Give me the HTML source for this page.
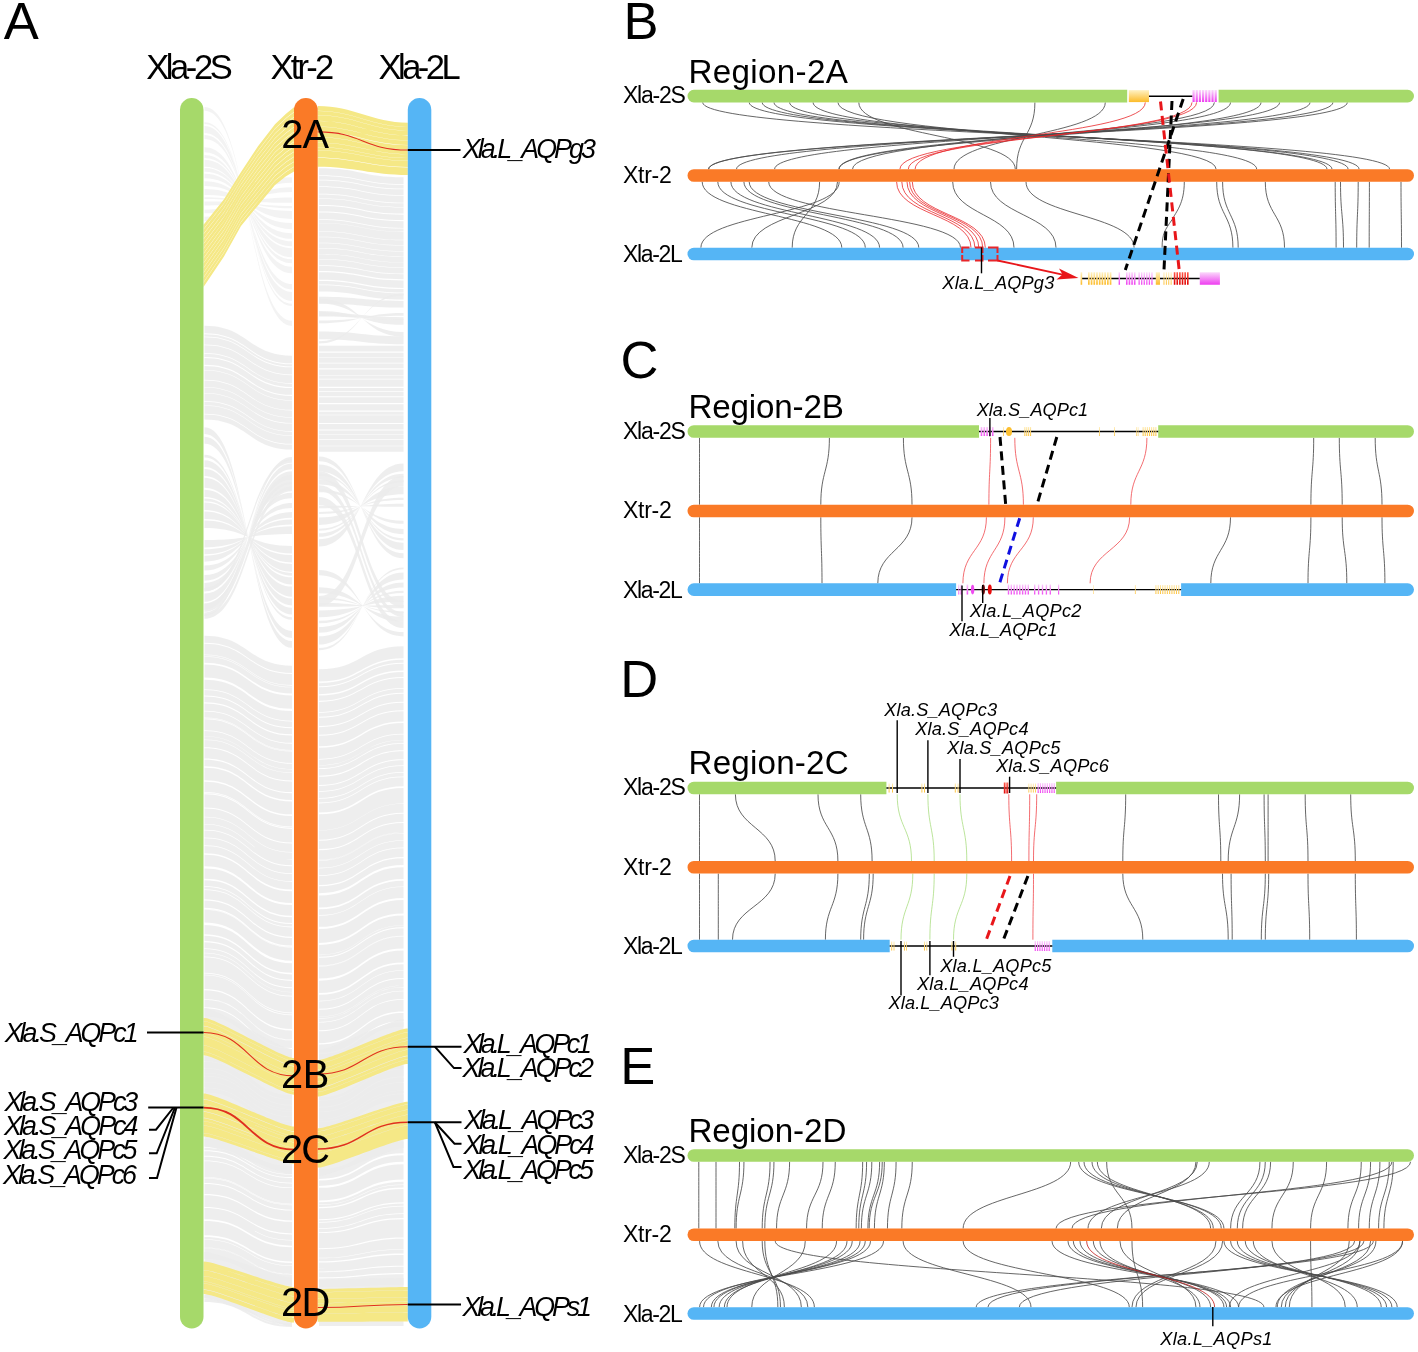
<!DOCTYPE html>
<html lang="en"><head><meta charset="utf-8"><title>Figure</title>
<style>
html,body{margin:0;padding:0;background:#fff}
svg{display:block}
text{font-family:"Liberation Sans",Arial,Helvetica,sans-serif;fill:#000}
</style></head><body>
<svg width="1418" height="1352" viewBox="0 0 1418 1352">
<rect width="1418" height="1352" fill="#fff"/>
<text x="3.8" y="38.8" font-size="52.5">A</text>
<g id="pA">
<g fill="#ebebeb" fill-opacity="0.85">
<path d="M204.5 106.99C248.25 106.99 248.25 325.9 292 325.9L292 320.85C248.25 320.85 248.25 110.86 204.5 110.86ZM204.5 122.2C248.25 122.2 248.25 306.06 292 306.06L292 303.81C248.25 303.81 248.25 123.93 204.5 123.93ZM204.5 126.11C248.25 126.11 248.25 300.97 292 300.97L292 291.95C248.25 291.95 248.25 133.03 204.5 133.03ZM204.5 134.98C248.25 134.98 248.25 289.41 292 289.41L292 284.03C248.25 284.03 248.25 139.11 204.5 139.11ZM204.5 147.3C248.25 147.3 248.25 273.35 292 273.35L292 266.84C248.25 266.84 248.25 152.3 204.5 152.3ZM204.5 155.03C248.25 155.03 248.25 263.28 292 263.28L292 259.36C248.25 259.36 248.25 158.04 204.5 158.04ZM204.5 159.63C248.25 159.63 248.25 257.29 292 257.29L292 248.15C248.25 248.15 248.25 166.64 204.5 166.64ZM204.5 168.12C248.25 168.12 248.25 246.22 292 246.22L292 241.35C248.25 241.35 248.25 171.86 204.5 171.86ZM204.5 173.77C248.25 173.77 248.25 238.86 292 238.86L292 233.17C248.25 233.17 248.25 178.14 204.5 178.14ZM204.5 181.24C248.25 181.24 248.25 229.13 292 229.13L292 223.04C248.25 223.04 248.25 185.91 204.5 185.91ZM204.5 189.07C248.25 189.07 248.25 218.91 292 218.91L292 211.03C248.25 211.03 248.25 195.12 204.5 195.12ZM204.5 197.29C248.25 197.29 248.25 208.2 292 208.2L292 205.94C248.25 205.94 248.25 199.03 204.5 199.03ZM204.5 201.46C248.25 201.46 248.25 202.77 292 202.77L292 197.44C248.25 197.44 248.25 205.55 204.5 205.55ZM204.5 209.65C248.25 209.65 248.25 192.09 292 192.09L292 187.33C248.25 187.33 248.25 213.3 204.5 213.3ZM204.5 216.75C248.25 216.75 248.25 182.85 292 182.85L292 177.2C248.25 177.2 248.25 221.08 204.5 221.08Z" fill-opacity="0.6"/>
<path d="M204.5 325.7C248.25 325.7 248.25 355.7 292 355.7L292 363.37C248.25 363.37 248.25 333.37 204.5 333.37ZM204.5 334.33C248.25 334.33 248.25 364.33 292 364.33L292 366.49C248.25 366.49 248.25 336.49 204.5 336.49ZM204.5 337.31C248.25 337.31 248.25 367.31 292 367.31L292 374.41C248.25 374.41 248.25 344.41 204.5 344.41ZM204.5 345.25C248.25 345.25 248.25 375.25 292 375.25L292 383.09C248.25 383.09 248.25 353.09 204.5 353.09ZM204.5 353.69C248.25 353.69 248.25 383.69 292 383.69L292 386.95C248.25 386.95 248.25 356.95 204.5 356.95ZM204.5 358.09C248.25 358.09 248.25 388.09 292 388.09L292 394.85C248.25 394.85 248.25 364.85 204.5 364.85ZM204.5 365.94C248.25 365.94 248.25 395.94 292 395.94L292 400.03C248.25 400.03 248.25 370.03 204.5 370.03ZM204.5 370.6C248.25 370.6 248.25 400.6 292 400.6L292 409.79C248.25 409.79 248.25 379.79 204.5 379.79ZM204.5 380.39C248.25 380.39 248.25 410.39 292 410.39L292 417.02C248.25 417.02 248.25 387.02 204.5 387.02ZM204.5 387.52C248.25 387.52 248.25 417.52 292 417.52L292 423.01C248.25 423.01 248.25 393.01 204.5 393.01ZM204.5 393.52C248.25 393.52 248.25 423.52 292 423.52L292 431.11C248.25 431.11 248.25 401.11 204.5 401.11ZM204.5 401.68C248.25 401.68 248.25 431.68 292 431.68L292 435.29C248.25 435.29 248.25 405.29 204.5 405.29ZM204.5 405.84C248.25 405.84 248.25 435.84 292 435.84L292 443.84C248.25 443.84 248.25 413.84 204.5 413.84ZM204.5 414.58C248.25 414.58 248.25 444.58 292 444.58L292 449.57C248.25 449.57 248.25 419.57 204.5 419.57Z"/>
<path d="M204.5 427.22C248.25 427.22 248.25 647.75 292 647.75L292 641C248.25 641 248.25 433.91 204.5 433.91ZM204.5 436.81C248.25 436.81 248.25 638.07 292 638.07L292 630.98C248.25 630.98 248.25 443.82 204.5 443.82ZM204.5 454.87C248.25 454.87 248.25 619.82 292 619.82L292 617.25C248.25 617.25 248.25 457.42 204.5 457.42ZM204.5 460.2C248.25 460.2 248.25 614.44 292 614.44L292 607.69C248.25 607.69 248.25 466.88 204.5 466.88ZM204.5 469.12C248.25 469.12 248.25 605.43 292 605.43L292 598.48C248.25 598.48 248.25 476 204.5 476ZM204.5 477.77C248.25 477.77 248.25 596.69 292 596.69L292 586.58C248.25 586.58 248.25 487.77 204.5 487.77ZM204.5 489.82C248.25 489.82 248.25 584.51 292 584.51L292 577.31C248.25 577.31 248.25 496.94 204.5 496.94ZM204.5 498.53C248.25 498.53 248.25 575.71 292 575.71L292 572.94C248.25 572.94 248.25 501.27 204.5 501.27ZM204.5 502.44C248.25 502.44 248.25 571.76 292 571.76L292 564C248.25 564 248.25 510.11 204.5 510.11ZM204.5 511.57C248.25 511.57 248.25 562.53 292 562.53L292 555C248.25 555 248.25 519.02 204.5 519.02ZM204.5 520.52C248.25 520.52 248.25 553.49 292 553.49L292 545.96C248.25 545.96 248.25 527.97 204.5 527.97ZM204.5 539.91C248.25 539.91 248.25 533.9 292 533.9L292 526.32C248.25 526.32 248.25 547.41 204.5 547.41ZM204.5 549.33C248.25 549.33 248.25 524.38 292 524.38L292 519.5C248.25 519.5 248.25 554.17 204.5 554.17ZM204.5 555.82C248.25 555.82 248.25 517.82 292 517.82L292 511.95C248.25 511.95 248.25 561.63 204.5 561.63ZM204.5 565.47C248.25 565.47 248.25 508.07 292 508.07L292 503.01C248.25 503.01 248.25 570.49 204.5 570.49ZM204.5 575.09C248.25 575.09 248.25 498.35 292 498.35L292 492.73C248.25 492.73 248.25 580.65 204.5 580.65ZM204.5 583.02C248.25 583.02 248.25 490.34 292 490.34L292 482.1C248.25 482.1 248.25 591.18 204.5 591.18ZM204.5 593.49C248.25 593.49 248.25 479.76 292 479.76L292 471.33C248.25 471.33 248.25 601.84 204.5 601.84ZM204.5 603.98C248.25 603.98 248.25 469.16 292 469.16L292 463.43C248.25 463.43 248.25 609.65 204.5 609.65ZM204.5 612.45C248.25 612.45 248.25 460.61 292 460.61L292 457.07C248.25 457.07 248.25 615.95 204.5 615.95Z"/>
<path d="M204.5 588.02C248.25 588.02 248.25 459.15 292 459.15L292 462.85C248.25 462.85 248.25 591.57 204.5 591.57ZM204.5 603.19C248.25 603.19 248.25 474.96 292 474.96L292 483.91C248.25 483.91 248.25 611.77 204.5 611.77ZM204.5 614.21C248.25 614.21 248.25 486.45 292 486.45L292 491.2C248.25 491.2 248.25 618.77 204.5 618.77Z"/>
<path d="M204.5 635.7C248.25 635.7 248.25 665.72 292 665.72L292 672.95C248.25 672.95 248.25 642.73 204.5 642.73ZM204.5 643.84C248.25 643.84 248.25 674.09 292 674.09L292 685.06C248.25 685.06 248.25 654.5 204.5 654.5ZM204.5 655.06C248.25 655.06 248.25 685.64 292 685.64L292 686.9C248.25 686.9 248.25 656.29 204.5 656.29ZM204.5 656.68C248.25 656.68 248.25 687.3 292 687.3L292 693.42C248.25 693.42 248.25 662.63 204.5 662.63ZM204.5 664.55C248.25 664.55 248.25 695.4 292 695.4L292 708.8C248.25 708.8 248.25 677.57 204.5 677.57ZM204.5 679.81C248.25 679.81 248.25 711.1 292 711.1L292 720.7C248.25 720.7 248.25 689.14 204.5 689.14ZM204.5 689.92C248.25 689.92 248.25 721.5 292 721.5L292 727.28C248.25 727.28 248.25 695.54 204.5 695.54ZM204.5 696.5C248.25 696.5 248.25 728.27 292 728.27L292 734.25C248.25 734.25 248.25 702.31 204.5 702.31ZM204.5 703.6C248.25 703.6 248.25 735.57 292 735.57L292 742.82C248.25 742.82 248.25 710.64 204.5 710.64ZM204.5 711.59C248.25 711.59 248.25 743.8 292 743.8L292 749.99C248.25 749.99 248.25 717.61 204.5 717.61ZM204.5 718.07C248.25 718.07 248.25 750.47 292 750.47L292 750.98C248.25 750.98 248.25 718.57 204.5 718.57ZM204.5 719.18C248.25 719.18 248.25 751.6 292 751.6L292 762.94C248.25 762.94 248.25 730.2 204.5 730.2ZM204.5 731C248.25 731 248.25 763.77 292 763.77L292 769.05C248.25 769.05 248.25 736.14 204.5 736.14ZM204.5 736.54C248.25 736.54 248.25 769.46 292 769.46L292 772.53C248.25 772.53 248.25 739.52 204.5 739.52ZM204.5 739.96C248.25 739.96 248.25 772.98 292 772.98L292 780.56C248.25 780.56 248.25 747.32 204.5 747.32ZM204.5 748.23C248.25 748.23 248.25 781.49 292 781.49L292 792.11C248.25 792.11 248.25 758.55 204.5 758.55ZM204.5 759.72C248.25 759.72 248.25 793.31 292 793.31L292 800.07C248.25 800.07 248.25 766.29 204.5 766.29ZM204.5 767.67C248.25 767.67 248.25 801.5 292 801.5L292 814.36C248.25 814.36 248.25 780.17 204.5 780.17ZM204.5 781.77C248.25 781.77 248.25 816 292 816L292 826.5C248.25 826.5 248.25 791.98 204.5 791.98ZM204.5 792.79C248.25 792.79 248.25 827.34 292 827.34L292 827.93C248.25 827.93 248.25 793.37 204.5 793.37ZM204.5 794.31C248.25 794.31 248.25 828.9 292 828.9L292 842.45C248.25 842.45 248.25 807.48 204.5 807.48ZM204.5 808.61C248.25 808.61 248.25 843.61 292 843.61L292 852.08C248.25 852.08 248.25 816.85 204.5 816.85ZM204.5 817.37C248.25 817.37 248.25 852.62 292 852.62L292 859.71C248.25 859.71 248.25 824.26 204.5 824.26ZM204.5 824.52C248.25 824.52 248.25 859.98 292 859.98L292 859.55C248.25 859.55 248.25 824.1 204.5 824.1ZM204.5 824.36C248.25 824.36 248.25 859.82 292 859.82L292 865.26C248.25 865.26 248.25 829.65 204.5 829.65ZM204.5 830.51C248.25 830.51 248.25 866.14 292 866.14L292 873.28C248.25 873.28 248.25 837.45 204.5 837.45ZM204.5 838.26C248.25 838.26 248.25 874.11 292 874.11L292 881.33C248.25 881.33 248.25 845.27 204.5 845.27ZM204.5 845.9C248.25 845.9 248.25 881.97 292 881.97L292 889.52C248.25 889.52 248.25 853.23 204.5 853.23ZM204.5 854.8C248.25 854.8 248.25 891.13 292 891.13L292 903.03C248.25 903.03 248.25 866.36 204.5 866.36ZM204.5 868.4C248.25 868.4 248.25 905.12 292 905.12L292 915.67C248.25 915.67 248.25 878.65 204.5 878.65ZM204.5 880.17C248.25 880.17 248.25 917.23 292 917.23L292 923.12C248.25 923.12 248.25 885.9 204.5 885.9ZM204.5 886.79C248.25 886.79 248.25 924.04 292 924.04L292 926.49C248.25 926.49 248.25 889.17 204.5 889.17ZM204.5 890.06C248.25 890.06 248.25 927.41 292 927.41L292 936.73C248.25 936.73 248.25 899.13 204.5 899.13ZM204.5 900.43C248.25 900.43 248.25 938.08 292 938.08L292 947.16C248.25 947.16 248.25 909.26 204.5 909.26ZM204.5 909.73C248.25 909.73 248.25 947.64 292 947.64L292 945.59C248.25 945.59 248.25 907.74 204.5 907.74ZM204.5 908.9C248.25 908.9 248.25 946.79 292 946.79L292 960.77C248.25 960.77 248.25 922.5 204.5 922.5ZM204.5 924.95C248.25 924.95 248.25 963.3 292 963.3L292 972.8C248.25 972.8 248.25 934.18 204.5 934.18ZM204.5 935.76C248.25 935.76 248.25 974.42 292 974.42L292 979.85C248.25 979.85 248.25 941.03 204.5 941.03ZM204.5 942.15C248.25 942.15 248.25 980.99 292 980.99L292 987.29C248.25 987.29 248.25 948.27 204.5 948.27ZM204.5 949.1C248.25 949.1 248.25 988.15 292 988.15L292 992.03C248.25 992.03 248.25 952.87 204.5 952.87ZM204.5 953.13C248.25 953.13 248.25 992.3 292 992.3L292 995.83C248.25 995.83 248.25 956.57 204.5 956.57ZM204.5 957.22C248.25 957.22 248.25 996.49 292 996.49L292 1012.59C248.25 1012.59 248.25 972.86 204.5 972.86ZM204.5 973.52C248.25 973.52 248.25 1013.26 292 1013.26L292 1014.47C248.25 1014.47 248.25 974.69 204.5 974.69ZM204.5 975.37C248.25 975.37 248.25 1015.17 292 1015.17L292 1029.11C248.25 1029.11 248.25 988.92 204.5 988.92ZM204.5 990.28C248.25 990.28 248.25 1030.51 292 1030.51L292 1039.56C248.25 1039.56 248.25 999.08 204.5 999.08ZM204.5 999.85C248.25 999.85 248.25 1040.36 292 1040.36L292 1040.12C248.25 1040.12 248.25 999.62 204.5 999.62ZM204.5 999.94C248.25 999.94 248.25 1040.45 292 1040.45L292 1048C248.25 1048 248.25 1007.28 204.5 1007.28ZM204.5 1008.16C248.25 1008.16 248.25 1048.91 292 1048.91L292 1057.45C248.25 1057.45 248.25 1016.47 204.5 1016.47Z"/>
<path d="M204.5 1056.23C248.25 1056.23 248.25 1095.2 292 1095.2L292 1099.19C248.25 1099.19 248.25 1061.01 204.5 1061.01ZM204.5 1061.87C248.25 1061.87 248.25 1099.92 292 1099.92L292 1104.84C248.25 1104.84 248.25 1067.75 204.5 1067.75ZM204.5 1068.73C248.25 1068.73 248.25 1105.67 292 1105.67L292 1109.02C248.25 1109.02 248.25 1072.74 204.5 1072.74ZM204.5 1073.17C248.25 1073.17 248.25 1109.39 292 1109.39L292 1111.6C248.25 1111.6 248.25 1075.81 204.5 1075.81ZM204.5 1076.4C248.25 1076.4 248.25 1112.09 292 1112.09L292 1116.51C248.25 1116.51 248.25 1081.67 204.5 1081.67ZM204.5 1082.36C248.25 1082.36 248.25 1117.09 292 1117.09L292 1121.46C248.25 1121.46 248.25 1087.59 204.5 1087.59ZM204.5 1088.26C248.25 1088.26 248.25 1122.03 292 1122.03L292 1125.59C248.25 1125.59 248.25 1092.51 204.5 1092.51Z"/>
<path d="M204.5 1139.06C248.25 1139.06 248.25 1166.05 292 1166.05L292 1177.11C248.25 1177.11 248.25 1150.21 204.5 1150.21ZM204.5 1151.14C248.25 1151.14 248.25 1178.03 292 1178.03L292 1174.3C248.25 1174.3 248.25 1147.37 204.5 1147.37ZM204.5 1147.95C248.25 1147.95 248.25 1174.86 292 1174.86L292 1182.66C248.25 1182.66 248.25 1155.8 204.5 1155.8ZM204.5 1156.64C248.25 1156.64 248.25 1183.49 292 1183.49L292 1187.43C248.25 1187.43 248.25 1160.62 204.5 1160.62ZM204.5 1161.28C248.25 1161.28 248.25 1188.09 292 1188.09L292 1203.65C248.25 1203.65 248.25 1176.96 204.5 1176.96ZM204.5 1177.52C248.25 1177.52 248.25 1204.2 292 1204.2L292 1204.73C248.25 1204.73 248.25 1178.06 204.5 1178.06ZM204.5 1178.46C248.25 1178.46 248.25 1205.13 292 1205.13L292 1209.71C248.25 1209.71 248.25 1183.08 204.5 1183.08ZM204.5 1183.96C248.25 1183.96 248.25 1210.59 292 1210.59L292 1220.44C248.25 1220.44 248.25 1193.89 204.5 1193.89ZM204.5 1195.31C248.25 1195.31 248.25 1221.84 292 1221.84L292 1233.43C248.25 1233.43 248.25 1207 204.5 1207ZM204.5 1208.11C248.25 1208.11 248.25 1234.53 292 1234.53L292 1240.06C248.25 1240.06 248.25 1213.68 204.5 1213.68ZM204.5 1213.88C248.25 1213.88 248.25 1240.26 292 1240.26L292 1240.2C248.25 1240.2 248.25 1213.82 204.5 1213.82ZM204.5 1214.11C248.25 1214.11 248.25 1240.49 292 1240.49L292 1245.63C248.25 1245.63 248.25 1219.3 204.5 1219.3ZM204.5 1221.05C248.25 1221.05 248.25 1247.37 292 1247.37L292 1261.45C248.25 1261.45 248.25 1235.25 204.5 1235.25ZM204.5 1236.88C248.25 1236.88 248.25 1263.07 292 1263.07L292 1265.38C248.25 1265.38 248.25 1239.21 204.5 1239.21ZM204.5 1239.85C248.25 1239.85 248.25 1266.02 292 1266.02L292 1273.87C248.25 1273.87 248.25 1247.77 204.5 1247.77ZM204.5 1248.2C248.25 1248.2 248.25 1274.3 292 1274.3L292 1273.65C248.25 1273.65 248.25 1247.55 204.5 1247.55ZM204.5 1248.56C248.25 1248.56 248.25 1274.65 292 1274.65L292 1284.97C248.25 1284.97 248.25 1258.96 204.5 1258.96Z"/>
<path d="M204.5 1295.25C248.25 1295.25 248.25 1323.14 292 1323.14L292 1324.93C248.25 1324.93 248.25 1298.38 204.5 1298.38ZM204.5 1298.75C248.25 1298.75 248.25 1325.14 292 1325.14L292 1326.93C248.25 1326.93 248.25 1301.88 204.5 1301.88Z"/>
<path d="M319 168.27C361.25 168.27 361.25 177.26 403.5 177.26L403.5 184.26C361.25 184.26 361.25 175.32 319 175.32ZM319 176.04C361.25 176.04 361.25 184.98 403.5 184.98L403.5 188.55C361.25 188.55 361.25 179.65 319 179.65ZM319 180.44C361.25 180.44 361.25 189.34 403.5 189.34L403.5 195.1C361.25 195.1 361.25 186.24 319 186.24ZM319 186.98C361.25 186.98 361.25 195.83 403.5 195.83L403.5 202.64C361.25 202.64 361.25 193.85 319 193.85ZM319 194.43C361.25 194.43 361.25 203.22 403.5 203.22L403.5 207.11C361.25 207.11 361.25 198.36 319 198.36ZM319 198.87C361.25 198.87 361.25 207.62 403.5 207.62L403.5 213.6C361.25 213.6 361.25 204.89 319 204.89ZM319 206C361.25 206 361.25 214.69 403.5 214.69L403.5 220.1C361.25 220.1 361.25 211.45 319 211.45ZM319 212.58C361.25 212.58 361.25 221.22 403.5 221.22L403.5 227.92C361.25 227.92 361.25 219.33 319 219.33ZM319 219.88C361.25 219.88 361.25 228.46 403.5 228.46L403.5 231.49C361.25 231.49 361.25 222.93 319 222.93ZM319 223.35C361.25 223.35 361.25 231.9 403.5 231.9L403.5 239.7C361.25 239.7 361.25 231.21 319 231.21ZM319 231.83C361.25 231.83 361.25 240.31 403.5 240.31L403.5 245.16C361.25 245.16 361.25 236.71 319 236.71ZM319 237.36C361.25 237.36 361.25 245.8 403.5 245.8L403.5 251.12C361.25 251.12 361.25 242.73 319 242.73ZM319 243.14C361.25 243.14 361.25 251.53 403.5 251.53L403.5 256.39C361.25 256.39 361.25 248.04 319 248.04ZM319 248.4C361.25 248.4 361.25 256.75 403.5 256.75L403.5 262.23C361.25 262.23 361.25 253.93 319 253.93ZM319 254.29C361.25 254.29 361.25 262.6 403.5 262.6L403.5 267.18C361.25 267.18 361.25 258.91 319 258.91ZM319 259.42C361.25 259.42 361.25 267.68 403.5 267.68L403.5 273.46C361.25 273.46 361.25 265.24 319 265.24ZM319 266.05C361.25 266.05 361.25 274.26 403.5 274.26L403.5 279.25C361.25 279.25 361.25 271.08 319 271.08ZM319 272.37C361.25 272.37 361.25 280.52 403.5 280.52L403.5 287.91C361.25 287.91 361.25 279.82 319 279.82ZM319 281.01C361.25 281.01 361.25 289.09 403.5 289.09L403.5 292.44C361.25 292.44 361.25 284.38 319 284.38ZM319 285.18C361.25 285.18 361.25 293.24 403.5 293.24L403.5 299.56C361.25 299.56 361.25 291.56 319 291.56Z"/>
<path d="M319 298.61C361.25 298.61 361.25 336.7 403.5 336.7L403.5 331.98C361.25 331.98 361.25 303.51 319 303.51ZM319 310.92C361.25 310.92 361.25 324.84 403.5 324.84L403.5 319.37C361.25 319.37 361.25 316.6 319 316.6ZM319 320.4C361.25 320.4 361.25 315.71 403.5 315.71L403.5 312.96C361.25 312.96 361.25 323.25 319 323.25ZM319 341.29C361.25 341.29 361.25 295.58 403.5 295.58L403.5 293.49C361.25 293.49 361.25 343.45 319 343.45Z"/>
<path d="M319 296.87C361.25 296.87 361.25 300.89 403.5 300.89L403.5 307.57C361.25 307.57 361.25 303.4 319 303.4ZM319 312.8C361.25 312.8 361.25 317.18 403.5 317.18L403.5 319.91C361.25 319.91 361.25 315.47 319 315.47ZM319 331.53C361.25 331.53 361.25 336.34 403.5 336.34L403.5 344.24C361.25 344.24 361.25 339.26 319 339.26Z"/>
<path d="M319 345.66C361.25 345.66 361.25 345.66 403.5 345.66L403.5 351.52C361.25 351.52 361.25 351.52 319 351.52ZM319 352.65C361.25 352.65 361.25 352.65 403.5 352.65L403.5 357.45C361.25 357.45 361.25 357.45 319 357.45ZM319 358.12C361.25 358.12 361.25 358.12 403.5 358.12L403.5 362.65C361.25 362.65 361.25 362.65 319 362.65ZM319 363.4C361.25 363.4 361.25 363.4 403.5 363.4L403.5 368.37C361.25 368.37 361.25 368.37 319 368.37ZM319 369.41C361.25 369.41 361.25 369.41 403.5 369.41L403.5 374.9C361.25 374.9 361.25 374.9 319 374.9ZM319 375.5C361.25 375.5 361.25 375.5 403.5 375.5L403.5 378.75C361.25 378.75 361.25 378.75 319 378.75ZM319 379.6C361.25 379.6 361.25 379.6 403.5 379.6L403.5 386.86C361.25 386.86 361.25 386.86 319 386.86ZM319 387.93C361.25 387.93 361.25 387.93 403.5 387.93L403.5 391.19C361.25 391.19 361.25 391.19 319 391.19ZM319 391.9C361.25 391.9 361.25 391.9 403.5 391.9L403.5 396.36C361.25 396.36 361.25 396.36 319 396.36ZM319 397.18C361.25 397.18 361.25 397.18 403.5 397.18L403.5 403.02C361.25 403.02 361.25 403.02 319 403.02ZM319 404.28C361.25 404.28 361.25 404.28 403.5 404.28L403.5 410.53C361.25 410.53 361.25 410.53 319 410.53ZM319 411.76C361.25 411.76 361.25 411.76 403.5 411.76L403.5 414.69C361.25 414.69 361.25 414.69 319 414.69ZM319 415.35C361.25 415.35 361.25 415.35 403.5 415.35L403.5 423.03C361.25 423.03 361.25 423.03 319 423.03ZM319 423.95C361.25 423.95 361.25 423.95 403.5 423.95L403.5 429.53C361.25 429.53 361.25 429.53 319 429.53ZM319 430.46C361.25 430.46 361.25 430.46 403.5 430.46L403.5 433.88C361.25 433.88 361.25 433.88 319 433.88ZM319 434.39C361.25 434.39 361.25 434.39 403.5 434.39L403.5 439.37C361.25 439.37 361.25 439.37 319 439.37ZM319 439.91C361.25 439.91 361.25 439.91 403.5 439.91L403.5 445.68C361.25 445.68 361.25 445.68 319 445.68ZM319 446.21C361.25 446.21 361.25 446.21 403.5 446.21L403.5 451.76C361.25 451.76 361.25 451.76 319 451.76Z"/>
<path d="M319 456.56C361.25 456.56 361.25 558.36 403.5 558.36L403.5 553.34C361.25 553.34 361.25 461.32 319 461.32ZM319 464.42C361.25 464.42 361.25 550.08 403.5 550.08L403.5 542.7C361.25 542.7 361.25 471.42 319 471.42ZM319 473.49C361.25 473.49 361.25 540.51 403.5 540.51L403.5 538.17C361.25 538.17 361.25 475.72 319 475.72ZM319 479.49C361.25 479.49 361.25 534.19 403.5 534.19L403.5 528.91C361.25 528.91 361.25 484.5 319 484.5ZM319 489.31C361.25 489.31 361.25 523.84 403.5 523.84L403.5 520.78C361.25 520.78 361.25 492.22 319 492.22ZM319 505.64C361.25 505.64 361.25 506.64 403.5 506.64L403.5 503.82C361.25 503.82 361.25 508.31 319 508.31ZM319 511.89C361.25 511.89 361.25 500.05 403.5 500.05L403.5 497.82C361.25 497.82 361.25 514 319 514ZM319 517.47C361.25 517.47 361.25 494.17 403.5 494.17L403.5 486.25C361.25 486.25 361.25 524.98 319 524.98ZM319 528.67C361.25 528.67 361.25 482.37 403.5 482.37L403.5 480.27C361.25 480.27 361.25 530.66 319 530.66ZM319 533.3C361.25 533.3 361.25 477.49 403.5 477.49L403.5 473.8C361.25 473.8 361.25 536.8 319 536.8ZM319 539.18C361.25 539.18 361.25 471.29 403.5 471.29L403.5 463.59C361.25 463.59 361.25 546.49 319 546.49Z"/>
<path d="M319 570.12C361.25 570.12 361.25 636.42 403.5 636.42L403.5 632.07C361.25 632.07 361.25 575.18 319 575.18ZM319 587.15C361.25 587.15 361.25 621.77 403.5 621.77L403.5 616.62C361.25 616.62 361.25 593.14 319 593.14ZM319 597.32C361.25 597.32 361.25 613.03 403.5 613.03L403.5 611.21C361.25 611.21 361.25 599.43 319 599.43ZM319 602.73C361.25 602.73 361.25 608.37 403.5 608.37L403.5 604.9C361.25 604.9 361.25 606.77 319 606.77ZM319 610.42C361.25 610.42 361.25 601.76 403.5 601.76L403.5 595.86C361.25 595.86 361.25 617.28 319 617.28ZM319 620.68C361.25 620.68 361.25 592.93 403.5 592.93L403.5 590.74C361.25 590.74 361.25 623.24 319 623.24ZM319 627.01C361.25 627.01 361.25 587.49 403.5 587.49L403.5 582.53C361.25 582.53 361.25 632.78 319 632.78ZM319 636.37C361.25 636.37 361.25 579.44 403.5 579.44L403.5 572.41C361.25 572.41 361.25 644.55 319 644.55ZM319 648.11C361.25 648.11 361.25 569.34 403.5 569.34L403.5 567.53C361.25 567.53 361.25 650.22 319 650.22Z"/>
<path d="M319 596C361.25 596 361.25 476 403.5 476L403.5 486C361.25 486 361.25 606 319 606Z"/>
<path d="M319 471.28C361.25 471.28 361.25 601.02 403.5 601.02L403.5 607.58C361.25 607.58 361.25 479.48 319 479.48ZM319 485.14C361.25 485.14 361.25 612.11 403.5 612.11L403.5 616.89C361.25 616.89 361.25 491.12 319 491.12ZM319 496.97C361.25 496.97 361.25 621.58 403.5 621.58L403.5 628.08C361.25 628.08 361.25 505.11 319 505.11Z"/>
<path d="M319 669.22C361.25 669.22 361.25 646.19 403.5 646.19L403.5 658.28C361.25 658.28 361.25 681.59 319 681.59ZM319 682.82C361.25 682.82 361.25 659.48 403.5 659.48L403.5 659.58C361.25 659.58 361.25 682.92 319 682.92ZM319 683.17C361.25 683.17 361.25 659.82 403.5 659.82L403.5 662.73C361.25 662.73 361.25 686.15 319 686.15ZM319 687.13C361.25 687.13 361.25 663.69 403.5 663.69L403.5 670.6C361.25 670.6 361.25 694.21 319 694.21ZM319 695.57C361.25 695.57 361.25 671.94 403.5 671.94L403.5 676.96C361.25 676.96 361.25 700.71 319 700.71ZM319 701.9C361.25 701.9 361.25 678.12 403.5 678.12L403.5 688.12C361.25 688.12 361.25 712.13 319 712.13ZM319 712.89C361.25 712.89 361.25 688.86 403.5 688.86L403.5 692.67C361.25 692.67 361.25 716.79 319 716.79ZM319 717.78C361.25 717.78 361.25 693.64 403.5 693.64L403.5 701.75C361.25 701.75 361.25 726.09 319 726.09ZM319 727.14C361.25 727.14 361.25 702.78 403.5 702.78L403.5 710.19C361.25 710.19 361.25 734.72 319 734.72ZM319 735.85C361.25 735.85 361.25 711.29 403.5 711.29L403.5 721.51C361.25 721.51 361.25 746.31 319 746.31ZM319 747.71C361.25 747.71 361.25 722.88 403.5 722.88L403.5 733.84C361.25 733.84 361.25 758.94 319 758.94ZM319 759.63C361.25 759.63 361.25 734.52 403.5 734.52L403.5 739.96C361.25 739.96 361.25 765.2 319 765.2ZM319 765.54C361.25 765.54 361.25 740.3 403.5 740.3L403.5 742.93C361.25 742.93 361.25 768.24 319 768.24ZM319 769.03C361.25 769.03 361.25 743.7 403.5 743.7L403.5 750.19C361.25 750.19 361.25 775.67 319 775.67ZM319 776.86C361.25 776.86 361.25 751.35 403.5 751.35L403.5 759.35C361.25 759.35 361.25 785.05 319 785.05ZM319 785.9C361.25 785.9 361.25 760.19 403.5 760.19L403.5 765.29C361.25 765.29 361.25 791.13 319 791.13ZM319 791.98C361.25 791.98 361.25 766.12 403.5 766.12L403.5 772.08C361.25 772.08 361.25 798.07 319 798.07ZM319 798.77C361.25 798.77 361.25 772.76 403.5 772.76L403.5 776.39C361.25 776.39 361.25 802.49 319 802.49ZM319 803.45C361.25 803.45 361.25 777.33 403.5 777.33L403.5 786.27C361.25 786.27 361.25 812.6 319 812.6ZM319 814.26C361.25 814.26 361.25 787.89 403.5 787.89L403.5 803.44C361.25 803.44 361.25 830.18 319 830.18ZM319 830.59C361.25 830.59 361.25 803.85 403.5 803.85L403.5 800.68C361.25 800.68 361.25 827.35 319 827.35ZM319 827.33C361.25 827.33 361.25 800.66 403.5 800.66L403.5 812.76C361.25 812.76 361.25 839.71 319 839.71ZM319 840.65C361.25 840.65 361.25 813.68 403.5 813.68L403.5 821.95C361.25 821.95 361.25 849.12 319 849.12ZM319 850.14C361.25 850.14 361.25 822.95 403.5 822.95L403.5 832.9C361.25 832.9 361.25 860.33 319 860.33ZM319 860.68C361.25 860.68 361.25 833.24 403.5 833.24L403.5 832.2C361.25 832.2 361.25 859.61 319 859.61ZM319 859.86C361.25 859.86 361.25 832.45 403.5 832.45L403.5 840.14C361.25 840.14 361.25 867.74 319 867.74ZM319 868.47C361.25 868.47 361.25 840.86 403.5 840.86L403.5 847.45C361.25 847.45 361.25 875.22 319 875.22ZM319 876.04C361.25 876.04 361.25 848.25 403.5 848.25L403.5 857.11C361.25 857.11 361.25 885.11 319 885.11ZM319 886.27C361.25 886.27 361.25 858.25 403.5 858.25L403.5 865.11C361.25 865.11 361.25 893.3 319 893.3ZM319 895.52C361.25 895.52 361.25 867.28 403.5 867.28L403.5 878.98C361.25 878.98 361.25 907.49 319 907.49ZM319 909.25C361.25 909.25 361.25 880.69 403.5 880.69L403.5 886.38C361.25 886.38 361.25 915.07 319 915.07ZM319 915.81C361.25 915.81 361.25 887.1 403.5 887.1L403.5 894.14C361.25 894.14 361.25 923.01 319 923.01ZM319 923.07C361.25 923.07 361.25 894.2 403.5 894.2L403.5 890.95C361.25 890.95 361.25 919.74 319 919.74ZM319 919.78C361.25 919.78 361.25 890.99 403.5 890.99L403.5 897.89C361.25 897.89 361.25 926.84 319 926.84ZM319 929.07C361.25 929.07 361.25 900.06 403.5 900.06L403.5 913.55C361.25 913.55 361.25 942.88 319 942.88ZM319 944.96C361.25 944.96 361.25 915.59 403.5 915.59L403.5 925.18C361.25 925.18 361.25 954.78 319 954.78ZM319 955.2C361.25 955.2 361.25 925.59 403.5 925.59L403.5 927.21C361.25 927.21 361.25 956.86 319 956.86ZM319 957.86C361.25 957.86 361.25 928.19 403.5 928.19L403.5 935.64C361.25 935.64 361.25 965.49 319 965.49ZM319 966.34C361.25 966.34 361.25 936.47 403.5 936.47L403.5 936.13C361.25 936.13 361.25 965.99 319 965.99ZM319 966.63C361.25 966.63 361.25 936.76 403.5 936.76L403.5 948.44C361.25 948.44 361.25 978.58 319 978.58ZM319 980.79C361.25 980.79 361.25 950.59 403.5 950.59L403.5 962.62C361.25 962.62 361.25 993.11 319 993.11ZM319 994.81C361.25 994.81 361.25 964.29 403.5 964.29L403.5 970.18C361.25 970.18 361.25 1000.84 319 1000.84ZM319 1001.48C361.25 1001.48 361.25 970.8 403.5 970.8L403.5 977.96C361.25 977.96 361.25 1008.81 319 1008.81ZM319 1009.75C361.25 1009.75 361.25 978.89 403.5 978.89L403.5 987.17C361.25 987.17 361.25 1018.24 319 1018.24ZM319 1018.67C361.25 1018.67 361.25 987.59 403.5 987.59L403.5 985.4C361.25 985.4 361.25 1016.42 319 1016.42ZM319 1016.67C361.25 1016.67 361.25 985.65 403.5 985.65L403.5 990.76C361.25 990.76 361.25 1021.9 319 1021.9ZM319 1022.52C361.25 1022.52 361.25 991.36 403.5 991.36L403.5 999.03C361.25 999.03 361.25 1030.37 319 1030.37ZM319 1031.22C361.25 1031.22 361.25 999.86 403.5 999.86L403.5 1011.49C361.25 1011.49 361.25 1043.13 319 1043.13ZM319 1044.58C361.25 1044.58 361.25 1012.91 403.5 1012.91L403.5 1020.98C361.25 1020.98 361.25 1052.84 319 1052.84ZM319 1054.06C361.25 1054.06 361.25 1022.17 403.5 1022.17L403.5 1026.69C361.25 1026.69 361.25 1058.69 319 1058.69Z"/>
<path d="M319 1097.37C361.25 1097.37 361.25 1065.42 403.5 1065.42L403.5 1068.68C361.25 1068.68 361.25 1100.17 319 1100.17ZM319 1100.96C361.25 1100.96 361.25 1069.59 403.5 1069.59L403.5 1076.4C361.25 1076.4 361.25 1106.82 319 1106.82ZM319 1107.68C361.25 1107.68 361.25 1077.4 403.5 1077.4L403.5 1081.95C361.25 1081.95 361.25 1111.6 319 1111.6ZM319 1112.26C361.25 1112.26 361.25 1082.72 403.5 1082.72L403.5 1090.51C361.25 1090.51 361.25 1118.96 319 1118.96ZM319 1119.45C361.25 1119.45 361.25 1091.07 403.5 1091.07L403.5 1093.4C361.25 1093.4 361.25 1121.46 319 1121.46ZM319 1122.29C361.25 1122.29 361.25 1094.37 403.5 1094.37L403.5 1100.34C361.25 1100.34 361.25 1127.43 319 1127.43Z"/>
<path d="M319 1169.22C361.25 1169.22 361.25 1141.48 403.5 1141.48L403.5 1153.27C361.25 1153.27 361.25 1178.9 319 1178.9ZM319 1180.12C361.25 1180.12 361.25 1154.75 403.5 1154.75L403.5 1154.69C361.25 1154.69 361.25 1180.08 319 1180.08ZM319 1180.44C361.25 1180.44 361.25 1155.14 403.5 1155.14L403.5 1161.8C361.25 1161.8 361.25 1185.91 319 1185.91ZM319 1187.83C361.25 1187.83 361.25 1164.13 403.5 1164.13L403.5 1179.54C361.25 1179.54 361.25 1200.5 319 1200.5ZM319 1202.29C361.25 1202.29 361.25 1181.72 403.5 1181.72L403.5 1184.46C361.25 1184.46 361.25 1204.54 319 1204.54ZM319 1205.01C361.25 1205.01 361.25 1185.03 403.5 1185.03L403.5 1187.57C361.25 1187.57 361.25 1207.1 319 1207.1ZM319 1208.27C361.25 1208.27 361.25 1189 403.5 1189L403.5 1202.32C361.25 1202.32 361.25 1219.22 319 1219.22ZM319 1220.26C361.25 1220.26 361.25 1203.59 403.5 1203.59L403.5 1205.75C361.25 1205.75 361.25 1222.04 319 1222.04ZM319 1222.71C361.25 1222.71 361.25 1206.56 403.5 1206.56L403.5 1213.13C361.25 1213.13 361.25 1228.11 319 1228.11ZM319 1228.83C361.25 1228.83 361.25 1214.01 403.5 1214.01L403.5 1218.03C361.25 1218.03 361.25 1232.13 319 1232.13ZM319 1233.04C361.25 1233.04 361.25 1219.13 403.5 1219.13L403.5 1237.51C361.25 1237.51 361.25 1248.14 319 1248.14ZM319 1249.16C361.25 1249.16 361.25 1238.74 403.5 1238.74L403.5 1249.18C361.25 1249.18 361.25 1257.74 319 1257.74ZM319 1258.18C361.25 1258.18 361.25 1249.71 403.5 1249.71L403.5 1253.5C361.25 1253.5 361.25 1261.29 319 1261.29ZM319 1262.51C361.25 1262.51 361.25 1254.99 403.5 1254.99L403.5 1265.82C361.25 1265.82 361.25 1271.41 319 1271.41ZM319 1272.24C361.25 1272.24 361.25 1266.83 403.5 1266.83L403.5 1261.73C361.25 1261.73 361.25 1268.05 319 1268.05ZM319 1268.16C361.25 1268.16 361.25 1261.87 403.5 1261.87L403.5 1272.9C361.25 1272.9 361.25 1277.23 319 1277.23ZM319 1278.41C361.25 1278.41 361.25 1274.33 403.5 1274.33L403.5 1284.97C361.25 1284.97 361.25 1287.15 319 1287.15Z"/>
<path d="M204.5 1008C216.75 1008 279.75 1049 292 1049L292 1174C279.75 1174 216.75 1146 204.5 1146Z"/>
<path d="M319 1050C330.83 1050 391.67 1019 403.5 1019L403.5 1148C391.67 1148 330.83 1176 319 1176Z"/>
<path d="M204.5 1252C216.75 1252 279.75 1278 292 1278L292 1326C279.75 1326 216.75 1298 204.5 1298Z"/>
<path d="M319 1280C330.83 1280 391.67 1278 403.5 1278L403.5 1326C391.67 1326 330.83 1326 319 1326Z"/>
</g>
<g fill="#f5e886">
<path d="M203.5 224.65L224 199.13L241 171.92L258 146.34L275 124.25L286 113.75L294 107.26L294 111.72L286 118.09L275 128.47L258 150.45L241 175.67L224 203.11L203.5 228.99ZM203.5 229.49L224 203.58L241 176.1L258 150.92L275 128.96L286 118.6L294 112.24L294 116.7L286 122.94L275 133.19L258 155.03L241 179.85L224 207.56L203.5 233.83ZM203.5 234.33L224 208.02L241 180.29L258 155.51L275 133.68L286 123.44L294 117.21L294 121.67L286 127.79L275 137.9L258 159.62L241 184.04L224 212.01L203.5 238.66ZM203.5 239.17L224 212.47L241 184.47L258 160.09L275 138.39L286 128.29L294 122.19L294 126.65L286 132.63L275 142.62L258 164.2L241 188.22L224 216.45L203.5 243.5ZM203.5 244.01L224 216.92L241 188.66L258 164.68L275 143.11L286 133.14L294 127.17L294 131.63L286 137.48L275 147.33L258 168.78L241 192.41L224 220.9L203.5 248.34ZM203.5 248.84L224 221.36L241 192.84L258 169.26L275 147.82L286 137.98L294 132.14L294 136.6L286 142.32L275 152.05L258 173.37L241 196.59L224 225.35L203.5 253.18ZM203.5 253.68L224 225.81L241 197.03L258 173.85L275 152.54L286 142.83L294 137.12L294 141.58L286 147.17L275 156.76L258 177.95L241 200.77L224 229.79L203.5 258.02ZM203.5 258.52L224 230.25L241 201.21L258 178.43L275 157.25L286 147.68L294 142.1L294 146.56L286 152.02L275 161.48L258 182.54L241 204.96L224 234.24L203.5 262.86ZM203.5 263.36L224 234.7L241 205.39L258 183.02L275 161.97L286 152.52L294 147.07L294 151.53L286 156.86L275 166.19L258 187.12L241 209.14L224 238.68L203.5 267.69ZM203.5 268.2L224 239.15L241 209.58L258 187.6L275 166.68L286 157.37L294 152.05L294 156.51L286 161.71L275 170.91L258 191.71L241 213.33L224 243.13L203.5 272.53ZM203.5 273.04L224 243.59L241 213.76L258 192.18L275 171.4L286 162.21L294 157.03L294 161.49L286 166.56L275 175.62L258 196.29L241 217.51L224 247.58L203.5 277.37ZM203.5 277.87L224 248.04L241 217.95L258 196.77L275 176.11L286 167.06L294 162L294 166.46L286 171.4L275 180.34L258 200.88L241 221.7L224 252.02L203.5 282.21ZM203.5 282.71L224 252.49L241 222.13L258 201.35L275 180.83L286 171.91L294 166.98L294 171.44L286 176.25L275 185.05L258 205.46L241 225.88L224 256.47L203.5 287.05Z"/>
<path d="M317.7 106.1C353.74 106.1 371.76 122.69 407.8 122.69L407.8 126.72C371.76 126.72 353.74 110.78 317.7 110.78ZM317.7 110.95C353.74 110.95 371.76 126.86 407.8 126.86L407.8 130.46C371.76 130.46 353.74 115.12 317.7 115.12ZM317.7 115.29C353.74 115.29 371.76 130.61 407.8 130.61L407.8 135.36C371.76 135.36 353.74 120.81 317.7 120.81ZM317.7 121.12C353.74 121.12 371.76 135.63 407.8 135.63L407.8 140.25C371.76 140.25 353.74 126.48 317.7 126.48ZM317.7 126.8C353.74 126.8 371.76 140.52 407.8 140.52L407.8 144.88C371.76 144.88 353.74 131.85 317.7 131.85ZM317.7 132.16C353.74 132.16 371.76 145.15 407.8 145.15L407.8 149.38C371.76 149.38 353.74 137.07 317.7 137.07ZM317.7 137.37C353.74 137.37 371.76 149.64 407.8 149.64L407.8 154.15C371.76 154.15 353.74 142.61 317.7 142.61ZM317.7 142.83C353.74 142.83 371.76 154.34 407.8 154.34L407.8 157.92C371.76 157.92 353.74 146.99 317.7 146.99ZM317.7 147.16C353.74 147.16 371.76 158.07 407.8 158.07L407.8 160.71C371.76 160.71 353.74 150.22 317.7 150.22ZM317.7 150.52C353.74 150.52 371.76 160.97 407.8 160.97L407.8 167.08C371.76 167.08 353.74 157.61 317.7 157.61ZM317.7 157.99C353.74 157.99 371.76 167.41 407.8 167.41L407.8 169.9C371.76 169.9 353.74 160.88 317.7 160.88ZM317.7 161.11C353.74 161.11 371.76 170.1 407.8 170.1L407.8 174.91C371.76 174.91 353.74 166.69 317.7 166.69Z"/>
<path d="M203.5 1017.66C216.17 1017.66 281.33 1058.06 294 1058.06L294 1061.3C281.33 1061.3 216.17 1020.99 203.5 1020.99ZM203.5 1021.24C216.17 1021.24 281.33 1061.55 294 1061.55L294 1065.99C281.33 1065.99 216.17 1025.79 203.5 1025.79ZM203.5 1026.18C216.17 1026.18 281.33 1066.38 294 1066.38L294 1073.08C281.33 1073.08 216.17 1033.05 203.5 1033.05ZM203.5 1033.31C216.17 1033.31 281.33 1073.34 294 1073.34L294 1076.56C281.33 1076.56 216.17 1036.62 203.5 1036.62ZM203.5 1036.76C216.17 1036.76 281.33 1076.7 294 1076.7L294 1082.24C281.33 1082.24 216.17 1042.43 203.5 1042.43ZM203.5 1042.57C216.17 1042.57 281.33 1082.37 294 1082.37L294 1085.07C281.33 1085.07 216.17 1045.33 203.5 1045.33ZM203.5 1045.57C216.17 1045.57 281.33 1085.3 294 1085.3L294 1091.11C281.33 1091.11 216.17 1051.52 203.5 1051.52ZM203.5 1051.74C216.17 1051.74 281.33 1091.32 294 1091.32L294 1094.66C281.33 1094.66 216.17 1055.16 203.5 1055.16Z"/>
<path d="M317.7 1060.05C330.31 1060.05 395.19 1028.55 407.8 1028.55L407.8 1032.35C395.19 1032.35 330.31 1063.97 317.7 1063.97ZM317.7 1064.17C330.31 1064.17 395.19 1032.55 407.8 1032.55L407.8 1037.78C395.19 1037.78 330.31 1069.57 317.7 1069.57ZM317.7 1069.76C330.31 1069.76 395.19 1037.97 407.8 1037.97L407.8 1040.8C395.19 1040.8 330.31 1072.68 317.7 1072.68ZM317.7 1072.87C330.31 1072.87 395.19 1040.98 407.8 1040.98L407.8 1045.52C395.19 1045.52 330.31 1077.54 317.7 1077.54ZM317.7 1077.78C330.31 1077.78 395.19 1045.74 407.8 1045.74L407.8 1049.69C395.19 1049.69 330.31 1081.85 317.7 1081.85ZM317.7 1082.17C330.31 1082.17 395.19 1050.01 407.8 1050.01L407.8 1055.8C395.19 1055.8 330.31 1088.15 317.7 1088.15ZM317.7 1088.5C330.31 1088.5 395.19 1056.14 407.8 1056.14L407.8 1059.61C395.19 1059.61 330.31 1092.08 317.7 1092.08ZM317.7 1092.28C330.31 1092.28 395.19 1059.81 407.8 1059.81L407.8 1063.9C395.19 1063.9 330.31 1096.5 317.7 1096.5Z"/>
<path d="M203.5 1093.41C216.17 1093.41 281.33 1126.48 294 1126.48L294 1131.35C281.33 1131.35 216.17 1099.04 203.5 1099.04ZM203.5 1099.44C216.17 1099.44 281.33 1131.7 294 1131.7L294 1135.92C281.33 1135.92 216.17 1104.33 203.5 1104.33ZM203.5 1104.56C216.17 1104.56 281.33 1136.12 294 1136.12L294 1138.37C281.33 1138.37 216.17 1107.17 203.5 1107.17ZM203.5 1107.32C216.17 1107.32 281.33 1138.5 294 1138.5L294 1141.99C281.33 1141.99 216.17 1111.35 203.5 1111.35ZM203.5 1111.71C216.17 1111.71 281.33 1142.3 294 1142.3L294 1147.59C281.33 1147.59 216.17 1117.83 203.5 1117.83ZM203.5 1118.17C216.17 1118.17 281.33 1147.87 294 1147.87L294 1150.36C281.33 1150.36 216.17 1121.05 203.5 1121.05ZM203.5 1121.24C216.17 1121.24 281.33 1150.53 294 1150.53L294 1153.94C281.33 1153.94 216.17 1125.18 203.5 1125.18ZM203.5 1125.43C216.17 1125.43 281.33 1154.15 294 1154.15L294 1160.68C281.33 1160.68 216.17 1132.99 203.5 1132.99ZM203.5 1133.26C216.17 1133.26 281.33 1160.92 294 1160.92L294 1163.69C281.33 1163.69 216.17 1136.47 203.5 1136.47Z"/>
<path d="M317.7 1128.24C330.31 1128.24 395.19 1101.64 407.8 1101.64L407.8 1104.58C395.19 1104.58 330.31 1131.35 317.7 1131.35ZM317.7 1131.51C330.31 1131.51 395.19 1104.73 407.8 1104.73L407.8 1109.77C395.19 1109.77 330.31 1136.83 317.7 1136.83ZM317.7 1137.1C330.31 1137.1 395.19 1110.03 407.8 1110.03L407.8 1114.81C395.19 1114.81 330.31 1142.15 317.7 1142.15ZM317.7 1142.38C330.31 1142.38 395.19 1115.02 407.8 1115.02L407.8 1119.51C395.19 1119.51 330.31 1147.12 317.7 1147.12ZM317.7 1147.22C330.31 1147.22 395.19 1119.61 407.8 1119.61L407.8 1121.47C395.19 1121.47 330.31 1149.18 317.7 1149.18ZM317.7 1149.36C330.31 1149.36 395.19 1121.64 407.8 1121.64L407.8 1125.31C395.19 1125.31 330.31 1153.24 317.7 1153.24ZM317.7 1153.49C330.31 1153.49 395.19 1125.55 407.8 1125.55L407.8 1131.88C395.19 1131.88 330.31 1160.18 317.7 1160.18ZM317.7 1160.38C330.31 1160.38 395.19 1132.07 407.8 1132.07L407.8 1136.13C395.19 1136.13 330.31 1164.67 317.7 1164.67ZM317.7 1164.84C330.31 1164.84 395.19 1136.29 407.8 1136.29L407.8 1138.94C395.19 1138.94 330.31 1167.64 317.7 1167.64Z"/>
<path d="M203.5 1261.54C216.17 1261.54 281.33 1287.04 294 1287.04L294 1290.71C281.33 1290.71 216.17 1264.88 203.5 1264.88ZM203.5 1264.99C216.17 1264.99 281.33 1290.83 294 1290.83L294 1296.22C281.33 1296.22 216.17 1269.9 203.5 1269.9ZM203.5 1270.13C216.17 1270.13 281.33 1296.48 294 1296.48L294 1302.92C281.33 1302.92 216.17 1276 203.5 1276ZM203.5 1276.26C216.17 1276.26 281.33 1303.21 294 1303.21L294 1308.71C281.33 1308.71 216.17 1281.26 203.5 1281.26ZM203.5 1281.41C216.17 1281.41 281.33 1308.87 294 1308.87L294 1310.81C281.33 1310.81 216.17 1283.17 203.5 1283.17ZM203.5 1283.41C216.17 1283.41 281.33 1311.07 294 1311.07L294 1317.62C281.33 1317.62 216.17 1289.37 203.5 1289.37ZM203.5 1289.66C216.17 1289.66 281.33 1317.94 294 1317.94L294 1322.59C281.33 1322.59 216.17 1293.9 203.5 1293.9Z"/>
<path d="M317.7 1289.05C330.31 1289.05 395.19 1287.05 407.8 1287.05L407.8 1290.25C395.19 1290.25 330.31 1292.09 317.7 1292.09ZM317.7 1292.23C330.31 1292.23 395.19 1290.4 407.8 1290.4L407.8 1297.23C395.19 1297.23 330.31 1298.73 317.7 1298.73ZM317.7 1298.92C330.31 1298.92 395.19 1297.43 407.8 1297.43L407.8 1301.73C395.19 1301.73 330.31 1303.01 317.7 1303.01ZM317.7 1303.2C330.31 1303.2 395.19 1301.93 407.8 1301.93L407.8 1305.82C395.19 1305.82 330.31 1306.89 317.7 1306.89ZM317.7 1307.06C330.31 1307.06 395.19 1305.99 407.8 1305.99L407.8 1312.62C395.19 1312.62 330.31 1313.37 317.7 1313.37ZM317.7 1313.5C330.31 1313.5 395.19 1312.76 407.8 1312.76L407.8 1317.65C395.19 1317.65 330.31 1318.15 317.7 1318.15ZM317.7 1318.34C330.31 1318.34 395.19 1317.85 407.8 1317.85L407.8 1321.57C395.19 1321.57 330.31 1321.87 317.7 1321.87Z"/>
</g>
<g fill="none" stroke="#e0301e" stroke-width="1.1">
<path d="M317.7 131.9C362.75 131.9 362.75 150 407.8 150"/>
<path d="M203.5 1032.5C248.75 1032.5 248.75 1075.9 294 1075.9"/>
<path d="M317.7 1073.9C362.75 1073.9 362.75 1046.7 407.8 1046.7"/>
<path d="M203.5 1107.6C248.75 1107.6 248.75 1149.6 294 1149.6" stroke-width="1.9"/>
<path d="M317.7 1149C362.75 1149 362.75 1122.2 407.8 1122.2" stroke-width="1.5"/>
<path d="M317.7 1307.5C362.75 1307.5 362.75 1304.5 407.8 1304.5"/>
</g>
<rect x="180" y="98" width="23.5" height="1230.5" rx="11.75" fill="#a6d96a"/>
<rect x="294" y="98" width="23.7" height="1230.5" rx="11.85" fill="#fa7a27"/>
<rect x="407.8" y="98" width="23.5" height="1230.5" rx="11.75" fill="#55b5f5"/>
<g fill="none" stroke="#000" stroke-width="2">
<path d="M407.8 150H460.5"/>
<path d="M147 1032.5H203.5"/>
<path d="M148.2 1107.5H203.5"/>
<path d="M149 1129.7H156L173.5 1107.5"/>
<path d="M149 1153.3H156.7L175 1107.5"/>
<path d="M149 1177.9H157L176.5 1107.5"/>
<path d="M407.8 1046.7H461.5"/>
<path d="M434.8 1046.7L454 1068.1H461.5"/>
<path d="M407.8 1122.2H461.5"/>
<path d="M434.8 1122.2L454.5 1143.7H461.5"/>
<path d="M434.8 1122.2L453.5 1167H461.5"/>
<path d="M407.8 1304.5H461"/>
</g>
<text x="146.13" y="78.7" font-size="34.5" letter-spacing="-3.4">Xla-2S</text>
<text x="270.43" y="78.7" font-size="34.5" letter-spacing="-2.76">Xtr-2</text>
<text x="378.53" y="78.7" font-size="34.5" letter-spacing="-3.52">Xla-2L</text>
<text x="281.3" y="148.4" font-size="39.8" letter-spacing="-0.9">2A</text>
<text x="281" y="1088.4" font-size="39.8" letter-spacing="-0.28">2B</text>
<text x="281" y="1163.3" font-size="39.8" letter-spacing="-1.76">2C</text>
<text x="281" y="1316.4" font-size="39.8" letter-spacing="-1.67">2D</text>
<text x="462.71" y="157.6" font-size="26.8" font-style="italic" letter-spacing="-2.91">Xla.L_AQPg3</text>
<text x="4.71" y="1041.6" font-size="26.8" font-style="italic" letter-spacing="-3">Xla.S_AQPc1</text>
<text x="4.51" y="1110.9" font-size="26.8" font-style="italic" letter-spacing="-3.01">Xla.S_AQPc3</text>
<text x="4.01" y="1135" font-size="26.8" font-style="italic" letter-spacing="-2.94">Xla.S_AQPc4</text>
<text x="3.51" y="1159.4" font-size="26.8" font-style="italic" letter-spacing="-2.99">Xla.S_AQPc5</text>
<text x="3.01" y="1184.2" font-size="26.8" font-style="italic" letter-spacing="-2.99">Xla.S_AQPc6</text>
<text x="463.51" y="1052.6" font-size="26.8" font-style="italic" letter-spacing="-3.25">Xla.L_AQPc1</text>
<text x="462.51" y="1077" font-size="26.8" font-style="italic" letter-spacing="-2.95">Xla.L_AQPc2</text>
<text x="464.21" y="1129.3" font-size="26.8" font-style="italic" letter-spacing="-3.09">Xla.L_AQPc3</text>
<text x="463.51" y="1154" font-size="26.8" font-style="italic" letter-spacing="-2.99">Xla.L_AQPc4</text>
<text x="463.51" y="1179.2" font-size="26.8" font-style="italic" letter-spacing="-3.05">Xla.L_AQPc5</text>
<text x="462.41" y="1315.5" font-size="26.8" font-style="italic" letter-spacing="-3.14">Xla.L_AQPs1</text>
</g>
<g id="pB">
<text x="623.5" y="38.7" font-size="52.5">B</text>
<defs>
<linearGradient id="pB1" gradientUnits="userSpaceOnUse" x1="0" y1="90.1" x2="0" y2="102.1"><stop offset="0" stop-color="#fbd9fb"/><stop offset="1" stop-color="#ee3cf0"/></linearGradient>
<linearGradient id="yB1" gradientUnits="userSpaceOnUse" x1="0" y1="90.1" x2="0" y2="102.1"><stop offset="0" stop-color="#fff2c4"/><stop offset="1" stop-color="#fcbb28"/></linearGradient>
<linearGradient id="rB1" gradientUnits="userSpaceOnUse" x1="0" y1="90.1" x2="0" y2="102.1"><stop offset="0" stop-color="#ff5a4a"/><stop offset="1" stop-color="#e00000"/></linearGradient>
<linearGradient id="pB2" gradientUnits="userSpaceOnUse" x1="0" y1="272.2" x2="0" y2="284.8"><stop offset="0" stop-color="#fbd9fb"/><stop offset="1" stop-color="#ee3cf0"/></linearGradient>
<linearGradient id="yB2" gradientUnits="userSpaceOnUse" x1="0" y1="272.2" x2="0" y2="284.8"><stop offset="0" stop-color="#fff2c4"/><stop offset="1" stop-color="#fcbb28"/></linearGradient>
<linearGradient id="rB2" gradientUnits="userSpaceOnUse" x1="0" y1="272.2" x2="0" y2="284.8"><stop offset="0" stop-color="#ff5a4a"/><stop offset="1" stop-color="#e00000"/></linearGradient>
</defs>
<path d="M702.7 102.4C702.7 135.8 1389.6 135.8 1389.6 169.2M749.2 102.4C749.2 135.8 1359.1 135.8 1359.1 169.2M762.2 102.4C762.2 135.8 1348.1 135.8 1348.1 169.2M774 102.4C774 135.8 1332 135.8 1332 169.2M789.6 102.4C789.6 135.8 1327 135.8 1327 169.2M813.1 102.4C813.1 135.8 1256.7 135.8 1256.7 169.2M837.9 102.4C837.9 135.8 1216.1 135.8 1216.1 169.2M858.8 102.4C858.8 135.8 1015.3 135.8 1015.3 169.2M1034.9 102.4C1034.9 135.8 1016.6 135.8 1016.6 169.2M1347.3 102.4C1347.3 135.8 708.6 135.8 708.6 169.2M1332.9 102.4C1332.9 135.8 708.6 135.8 708.6 169.2M1310 102.4C1310 135.8 736.5 135.8 736.5 169.2M1279.6 102.4C1279.6 135.8 774.6 135.8 774.6 169.2M1261 102.4C1261 135.8 839 135.8 839 169.2M1230.5 102.4C1230.5 135.8 839 135.8 839 169.2M1214.4 102.4C1214.4 135.8 852.5 135.8 852.5 169.2M1105.3 102.4C1105.3 135.8 954 135.8 954 169.2" fill="none" stroke="#4a4a4a" stroke-width="0.85"/>
<path d="M1196.6 102.4C1196.6 135.8 899.9 135.8 899.9 169.2M1192 102.4C1192 135.8 908.3 135.8 908.3 169.2M1145.3 102.4C1145.3 135.8 915.1 135.8 915.1 169.2" fill="none" stroke="#e8262a" stroke-width="0.8"/>
<path d="M702.2 181.8C702.2 214.75 841.8 214.75 841.8 247.7M717.8 181.8C717.8 214.75 865.3 214.75 865.3 247.7M730.9 181.8C730.9 214.75 879.6 214.75 879.6 247.7M743.9 181.8C743.9 214.75 903.1 214.75 903.1 247.7M749.2 181.8C749.2 214.75 918.8 214.75 918.8 247.7M768.7 181.8C768.7 214.75 960.5 214.75 960.5 247.7M839.2 181.8C839.2 214.75 700.9 214.75 700.9 247.7M837.5 181.8C837.5 214.75 751.8 214.75 751.8 247.7M819.6 181.8C819.6 214.75 792.2 214.75 792.2 247.7M952.7 181.8C952.7 214.75 1014 214.75 1014 247.7M990.5 181.8C990.5 214.75 1056 214.75 1056 247.7M1026 181.8C1026 214.75 1134.1 214.75 1134.1 247.7M1216.7 181.8C1216.7 214.75 1232.9 214.75 1232.9 247.7M1222.6 181.8C1222.6 214.75 1238.2 214.75 1238.2 247.7M1265.3 181.8C1265.3 214.75 1284.5 214.75 1284.5 247.7M1335.2 181.8C1335.2 214.75 1336.1 214.75 1336.1 247.7M1340.5 181.8C1340.5 214.75 1343.5 214.75 1343.5 247.7M1358.2 181.8C1358.2 214.75 1356.7 214.75 1356.7 247.7M1369.4 181.8C1369.4 214.75 1369.2 214.75 1369.2 247.7M1401 181.8C1401 214.75 1401.5 214.75 1401.5 247.7M1184.3 181.8C1184.3 203.8 1176 211.8 1172 219.8C1165 229.8 1162.1 233.7 1162.1 247.7" fill="none" stroke="#4a4a4a" stroke-width="0.85"/>
<path d="M896.6 181.8C896.6 214.75 971 214.75 971 247.7M901.8 181.8C901.8 214.75 974.9 214.75 974.9 247.7M907 181.8C907 214.75 978.8 214.75 978.8 247.7M909.6 181.8C909.6 214.75 982.7 214.75 982.7 247.7M912.3 181.8C912.3 214.75 985.3 214.75 985.3 247.7" fill="none" stroke="#e8262a" stroke-width="0.8"/>
<path d="M693.8 89.8H1127.2V102.4H693.8A6.3 6.3 0 0 1 693.8 89.8Z" fill="#a6d96a"/>
<path d="M1218.6 89.8H1407.7A6.3 6.3 0 0 1 1407.7 102.4H1218.6Z" fill="#a6d96a"/>
<path d="M693.8 169.2H1407.7A6.3 6.3 0 0 1 1407.7 181.8H693.8A6.3 6.3 0 0 1 693.8 169.2Z" fill="#fa7a27"/>
<path d="M693.8 247.7H1407.7A6.3 6.3 0 0 1 1407.7 260.3H693.8A6.3 6.3 0 0 1 693.8 247.7Z" fill="#55b5f5"/>
<path d="M1149 96.3H1192.5" stroke="#000" stroke-width="1.6"/>
<path d="M1128.8 90.1H1149V102.1H1128.8Z" fill="url(#yB1)"/>
<path d="M1192.5 90.1H1194.71V102.1H1192.5ZM1195.66 90.1H1197.86V102.1H1195.66ZM1198.81 90.1H1201.02V102.1H1198.81ZM1201.97 90.1H1204.18V102.1H1201.97ZM1205.12 90.1H1207.33V102.1H1205.12ZM1208.28 90.1H1210.49V102.1H1208.28ZM1211.44 90.1H1213.64V102.1H1211.44ZM1214.59 90.1H1216.8V102.1H1214.59Z" fill="url(#pB1)"/>
<path d="M962.2 253V247.4H969.5M975 247.4H982.5V253M988 247.4H997.5V253M962.2 255V260.5H969.5M975 260.5H982.5V255M988 260.5H997.5V255" fill="none" stroke="#e8262a" stroke-width="2"/>
<path d="M981.5 247.4V273.3" stroke="#000" stroke-width="1.4" fill="none"/>
<path d="M997.5 260.5L1066 275.3" stroke="#e8161a" stroke-width="1.8" fill="none"/>
<path d="M1078.5 278L1056.5 279.6L1062.5 274.5L1059 268.4Z" fill="#e8161a"/>
<path d="M1081 278.5H1199.8" stroke="#000" stroke-width="1.3"/>
<path d="M1080.6 272.2H1082.2V284.8H1080.6ZM1088 272.2H1089.68V284.8H1088ZM1090.71 272.2H1092.4V284.8H1090.71ZM1093.43 272.2H1095.11V284.8H1093.43ZM1096.14 272.2H1097.83V284.8H1096.14ZM1098.86 272.2H1100.54V284.8H1098.86ZM1101.57 272.2H1103.26V284.8H1101.57ZM1104.29 272.2H1105.97V284.8H1104.29ZM1107 272.2H1108.69V284.8H1107ZM1109.72 272.2H1111.4V284.8H1109.72ZM1155.8 272.2H1160V284.8H1155.8ZM1163.5 272.2H1164.45V284.8H1163.5ZM1165.88 272.2H1166.84V284.8H1165.88ZM1168.26 272.2H1169.22V284.8H1168.26ZM1170.65 272.2H1171.6V284.8H1170.65Z" fill="url(#yB2)"/>
<path d="M1118.6 272.2H1120V284.8H1118.6ZM1126 272.2H1127.58V284.8H1126ZM1128.64 272.2H1130.22V284.8H1128.64ZM1131.28 272.2H1132.86V284.8H1131.28ZM1133.92 272.2H1135.5V284.8H1133.92ZM1138.5 272.2H1139.78V284.8H1138.5ZM1141.06 272.2H1142.35V284.8H1141.06ZM1143.63 272.2H1144.91V284.8H1143.63ZM1146.19 272.2H1147.47V284.8H1146.19ZM1148.75 272.2H1150.04V284.8H1148.75ZM1151.32 272.2H1152.6V284.8H1151.32ZM1199.8 272.2H1219.9V284.8H1199.8Z" fill="url(#pB2)"/>
<path d="M1173.8 272.2H1175.39V284.8H1173.8ZM1176.44 272.2H1178.03V284.8H1176.44ZM1179.09 272.2H1180.67V284.8H1179.09ZM1181.73 272.2H1183.31V284.8H1181.73ZM1184.37 272.2H1185.96V284.8H1184.37ZM1187.01 272.2H1188.6V284.8H1187.01Z" fill="url(#rB2)"/>
<path d="M1183.2 99L1125.3 270" stroke="#000" stroke-width="3" stroke-dasharray="9 5.5" stroke-dashoffset="0" fill="none"/>
<path d="M1172 101L1164 270" stroke="#000" stroke-width="3" stroke-dasharray="9 5.5" stroke-dashoffset="0" fill="none"/>
<path d="M1160.5 101.5L1179.2 270" stroke="#e8161a" stroke-width="3" stroke-dasharray="9 5.5" stroke-dashoffset="0" fill="none"/>
<text x="622.98" y="103.4" font-size="23" letter-spacing="-1.23">Xla-2S</text>
<text x="622.98" y="182.9" font-size="23" letter-spacing="-0.27">Xtr-2</text>
<text x="622.98" y="262" font-size="23" letter-spacing="-1.32">Xla-2L</text>
<text x="688.48" y="82.7" font-size="33.2" letter-spacing="0.33">Region-2A</text>
<text x="942.35" y="288.7" font-size="18.2" font-style="italic" letter-spacing="0.17">Xla.L_AQPg3</text>
</g>
<g id="pC">
<text x="620.6" y="378.2" font-size="52.5">C</text>
<defs>
<linearGradient id="pC1" gradientUnits="userSpaceOnUse" x1="0" y1="425.5" x2="0" y2="437.5"><stop offset="0" stop-color="#fbd9fb"/><stop offset="1" stop-color="#ee3cf0"/></linearGradient>
<linearGradient id="yC1" gradientUnits="userSpaceOnUse" x1="0" y1="425.5" x2="0" y2="437.5"><stop offset="0" stop-color="#fff2c4"/><stop offset="1" stop-color="#fcbb28"/></linearGradient>
<linearGradient id="rC1" gradientUnits="userSpaceOnUse" x1="0" y1="425.5" x2="0" y2="437.5"><stop offset="0" stop-color="#ff5a4a"/><stop offset="1" stop-color="#e00000"/></linearGradient>
<linearGradient id="pC2" gradientUnits="userSpaceOnUse" x1="0" y1="583.6" x2="0" y2="595.6"><stop offset="0" stop-color="#fbd9fb"/><stop offset="1" stop-color="#ee3cf0"/></linearGradient>
<linearGradient id="yC2" gradientUnits="userSpaceOnUse" x1="0" y1="583.6" x2="0" y2="595.6"><stop offset="0" stop-color="#fff2c4"/><stop offset="1" stop-color="#fcbb28"/></linearGradient>
<linearGradient id="rC2" gradientUnits="userSpaceOnUse" x1="0" y1="583.6" x2="0" y2="595.6"><stop offset="0" stop-color="#ff5a4a"/><stop offset="1" stop-color="#e00000"/></linearGradient>
</defs>
<path d="M699.5 437.8C699.5 471.25 699.5 471.25 699.5 504.7M829.4 437.8C829.4 471.25 820.8 471.25 820.8 504.7M903.4 437.8C903.4 471.25 912 471.25 912 504.7M1313.7 437.8C1313.7 471.25 1310.9 471.25 1310.9 504.7M1339.3 437.8C1339.3 471.25 1342.2 471.25 1342.2 504.7M1375.2 437.8C1375.2 471.25 1382 471.25 1382 504.7M699.5 517.3C699.5 550.3 699.5 550.3 699.5 583.3M820.8 517.3C820.8 550.3 822 550.3 822 583.3M912 517.3C912 550.3 877.8 550.3 877.8 583.3M1230.5 517.3C1230.5 550.3 1210.8 550.3 1210.8 583.3M1310.9 517.3C1310.9 550.3 1308 550.3 1308 583.3M1342.2 517.3C1342.2 550.3 1346.8 550.3 1346.8 583.3M1382 517.3C1382 550.3 1384.9 550.3 1384.9 583.3" fill="none" stroke="#4a4a4a" stroke-width="0.85"/>
<path d="M990.6 437.8C990.6 471.25 988.9 471.25 988.9 504.7M1014.8 437.8C1014.8 471.25 1023.4 471.25 1023.4 504.7M1146.9 437.8C1146.9 471.25 1130.8 471.25 1130.8 504.7M986.4 517.3C986.4 550.3 962.9 550.3 962.9 583.3M1004.9 517.3C1004.9 550.3 983.9 550.3 983.9 583.3M1033.3 517.3C1033.3 550.3 1007.4 550.3 1007.4 583.3M1129.6 517.3C1129.6 550.3 1090.1 550.3 1090.1 583.3" fill="none" stroke="#f0474c" stroke-width="0.8"/>
<path d="M693.8 425.2H979V437.8H693.8A6.3 6.3 0 0 1 693.8 425.2Z" fill="#a6d96a"/>
<path d="M1158.2 425.2H1407.7A6.3 6.3 0 0 1 1407.7 437.8H1158.2Z" fill="#a6d96a"/>
<path d="M693.8 504.7H1407.7A6.3 6.3 0 0 1 1407.7 517.3H693.8A6.3 6.3 0 0 1 693.8 504.7Z" fill="#fa7a27"/>
<path d="M693.8 583.3H956.1V595.9H693.8A6.3 6.3 0 0 1 693.8 583.3Z" fill="#55b5f5"/>
<path d="M1181.1 583.3H1407.7A6.3 6.3 0 0 1 1407.7 595.9H1181.1Z" fill="#55b5f5"/>
<path d="M979 431.5H1158.2" stroke="#000" stroke-width="1.3"/>
<path d="M980.7 427H982.25V436H980.7ZM983.51 427H985.06V436H983.51ZM986.33 427H987.87V436H986.33ZM989.14 427H990.69V436H989.14ZM991.95 427H993.5V436H991.95Z" fill="url(#pC1)"/>
<path d="M1003 427H1003.8V436H1003ZM1099 427H1099.8V436H1099ZM1114.2 427H1115V436H1114.2ZM1024.3 427H1025.35V436H1024.3ZM1026.22 427H1027.27V436H1026.22ZM1028.13 427H1029.18V436H1028.13ZM1030.05 427H1031.1V436H1030.05ZM1136.2 427H1136.83V436H1136.2ZM1137.77 427H1138.4V436H1137.77ZM1142.6 427H1143.66V436H1142.6ZM1144.72 427H1145.78V436H1144.72ZM1146.85 427H1147.91V436H1146.85ZM1148.97 427H1150.03V436H1148.97ZM1151.09 427H1152.15V436H1151.09ZM1153.22 427H1154.28V436H1153.22ZM1155.34 427H1156.4V436H1155.34Z" fill="url(#yC1)"/>
<ellipse cx="1009" cy="431.5" rx="3" ry="4.6" fill="#fcbf30"/>
<path d="M989.9 417.9V436.3" stroke="#000" stroke-width="1.4" fill="none"/>
<path d="M956.1 589.6H1181.1" stroke="#000" stroke-width="1.3"/>
<path d="M958.3 584.6H959.04V594.6H958.3ZM959.78 584.6H960.52V594.6H959.78ZM961.26 584.6H962V594.6H961.26ZM966.6 584.6H968.2V594.6H966.6ZM1007.8 584.6H1009.21V594.6H1007.8ZM1010.63 584.6H1012.04V594.6H1010.63ZM1013.45 584.6H1014.87V594.6H1013.45ZM1016.28 584.6H1017.69V594.6H1016.28ZM1019.11 584.6H1020.52V594.6H1019.11ZM1021.93 584.6H1023.35V594.6H1021.93ZM1024.76 584.6H1026.17V594.6H1024.76ZM1027.59 584.6H1029V594.6H1027.59ZM1034 584.6H1035.37V594.6H1034ZM1037.91 584.6H1039.28V594.6H1037.91ZM1041.82 584.6H1043.18V594.6H1041.82ZM1045.72 584.6H1047.09V594.6H1045.72ZM1049.63 584.6H1051V594.6H1049.63ZM1058 584.6H1059.2V594.6H1058Z" fill="url(#pC2)"/>
<ellipse cx="972.6" cy="589.6" rx="1.7" ry="4.8" fill="#ee4cf0"/>
<ellipse cx="983.3" cy="589.6" rx="1.7" ry="5" fill="#7a0c0c"/>
<ellipse cx="989.8" cy="589.6" rx="2" ry="5" fill="#e80c0c"/>
<path d="M1093.4 585.1H1093.9V594.1H1093.4ZM1134.9 585.1H1135.7V594.1H1134.9ZM1155.4 585.1H1156.43V594.1H1155.4ZM1157.69 585.1H1158.72V594.1H1157.69ZM1159.97 585.1H1161V594.1H1159.97ZM1162.26 585.1H1163.29V594.1H1162.26ZM1164.55 585.1H1165.58V594.1H1164.55ZM1166.84 585.1H1167.86V594.1H1166.84ZM1169.12 585.1H1170.15V594.1H1169.12ZM1171.41 585.1H1172.44V594.1H1171.41ZM1173.7 585.1H1174.73V594.1H1173.7ZM1175.98 585.1H1177.01V594.1H1175.98ZM1178.27 585.1H1179.3V594.1H1178.27Z" fill="url(#yC2)"/>
<path d="M962 585.6V621.3" stroke="#000" stroke-width="1.4" fill="none"/>
<path d="M982.7 585V603" stroke="#000" stroke-width="1.4" fill="none"/>
<path d="M1000 437L1005.7 504.7" stroke="#000" stroke-width="3" stroke-dasharray="9 5.5" stroke-dashoffset="0" fill="none"/>
<path d="M1056.8 437L1037 504.7" stroke="#000" stroke-width="3" stroke-dasharray="9 5.5" stroke-dashoffset="0" fill="none"/>
<path d="M1019.7 518.2L998.7 586.1" stroke="#1010e0" stroke-width="3" stroke-dasharray="9 5.5" stroke-dashoffset="0" fill="none"/>
<text x="622.98" y="438.8" font-size="23" letter-spacing="-1.23">Xla-2S</text>
<text x="622.98" y="518.4" font-size="23" letter-spacing="-0.27">Xtr-2</text>
<text x="622.98" y="597.6" font-size="23" letter-spacing="-1.32">Xla-2L</text>
<text x="688.48" y="418" font-size="33.2" letter-spacing="-0.17">Region-2B</text>
<text x="976.65" y="416.1" font-size="18.2" font-style="italic" letter-spacing="0.03">Xla.S_AQPc1</text>
<text x="969.65" y="617.3" font-size="18.2" font-style="italic" letter-spacing="0.26">Xla.L_AQPc2</text>
<text x="949.15" y="635.5" font-size="18.2" font-style="italic" letter-spacing="-0.1">Xla.L_AQPc1</text>
</g>
<g id="pD">
<text x="620.2" y="696.5" font-size="52.5">D</text>
<defs>
<linearGradient id="pD1" gradientUnits="userSpaceOnUse" x1="0" y1="782.5" x2="0" y2="793.5"><stop offset="0" stop-color="#fbd9fb"/><stop offset="1" stop-color="#ee3cf0"/></linearGradient>
<linearGradient id="yD1" gradientUnits="userSpaceOnUse" x1="0" y1="782.5" x2="0" y2="793.5"><stop offset="0" stop-color="#fff2c4"/><stop offset="1" stop-color="#fcbb28"/></linearGradient>
<linearGradient id="rD1" gradientUnits="userSpaceOnUse" x1="0" y1="782.5" x2="0" y2="793.5"><stop offset="0" stop-color="#ff5a4a"/><stop offset="1" stop-color="#e00000"/></linearGradient>
<linearGradient id="pD2" gradientUnits="userSpaceOnUse" x1="0" y1="940.5" x2="0" y2="951.5"><stop offset="0" stop-color="#fbd9fb"/><stop offset="1" stop-color="#ee3cf0"/></linearGradient>
<linearGradient id="yD2" gradientUnits="userSpaceOnUse" x1="0" y1="940.5" x2="0" y2="951.5"><stop offset="0" stop-color="#fff2c4"/><stop offset="1" stop-color="#fcbb28"/></linearGradient>
<linearGradient id="rD2" gradientUnits="userSpaceOnUse" x1="0" y1="940.5" x2="0" y2="951.5"><stop offset="0" stop-color="#ff5a4a"/><stop offset="1" stop-color="#e00000"/></linearGradient>
</defs>
<path d="M699.5 794.3C699.5 827.65 699.5 827.65 699.5 861M735.4 794.3C735.4 827.65 775.2 827.65 775.2 861M818 794.3C818 827.65 837.9 827.65 837.9 861M860.7 794.3C860.7 827.65 872.1 827.65 872.1 861M1125.7 794.3C1125.7 827.65 1122.8 827.65 1122.8 861M1218.5 794.3C1218.5 827.65 1220.8 827.65 1220.8 861M1239.6 794.3C1239.6 827.65 1228.2 827.65 1228.2 861M1264.1 794.3C1264.1 827.65 1265.3 827.65 1265.3 861M1268.1 794.3C1268.1 827.65 1268.1 827.65 1268.1 861M1305.2 794.3C1305.2 827.65 1308 827.65 1308 861M1350.7 794.3C1350.7 827.65 1355.3 827.65 1355.3 861M699.5 873.6C699.5 906.65 699.5 906.65 699.5 939.7M718.3 873.6C718.3 906.65 718.3 906.65 718.3 939.7M775.2 873.6C775.2 906.65 732.5 906.65 732.5 939.7M837.9 873.6C837.9 906.65 825.4 906.65 825.4 939.7M869.3 873.6C869.3 906.65 860.7 906.65 860.7 939.7M873.2 873.6C873.2 906.65 863.6 906.65 863.6 939.7M1122.8 873.6C1122.8 906.65 1142.8 906.65 1142.8 939.7M1222.5 873.6C1222.5 906.65 1228.2 906.65 1228.2 939.7M1231.1 873.6C1231.1 906.65 1232.2 906.65 1232.2 939.7M1265.3 873.6C1265.3 906.65 1261.3 906.65 1261.3 939.7M1268.7 873.6C1268.7 906.65 1265.3 906.65 1265.3 939.7M1308 873.6C1308 906.65 1309.7 906.65 1309.7 939.7M1355.3 873.6C1355.3 906.65 1356.4 906.65 1356.4 939.7" fill="none" stroke="#4a4a4a" stroke-width="0.85"/>
<path d="M897.2 794.3C897.2 827.65 911.5 827.65 911.5 861M927.9 794.3C927.9 827.65 934.2 827.65 934.2 861M960 794.3C960 827.65 966.8 827.65 966.8 861M912.8 873.6C912.8 906.65 901 906.65 901 939.7M934.2 873.6C934.2 906.65 929.9 906.65 929.9 939.7M966.8 873.6C966.8 906.65 953.5 906.65 953.5 939.7" fill="none" stroke="#a9dd82" stroke-width="0.8"/>
<path d="M1008.8 794.3C1008.8 827.65 1011.6 827.65 1011.6 861M1029.7 794.3C1029.7 827.65 1028.9 827.65 1028.9 861M1036.7 794.3C1036.7 827.65 1033.5 827.65 1033.5 861M1033.5 873.6C1033.5 906.65 1032.9 906.65 1032.9 939.7" fill="none" stroke="#f0474c" stroke-width="0.8"/>
<path d="M693.8 781.7H886.4V794.3H693.8A6.3 6.3 0 0 1 693.8 781.7Z" fill="#a6d96a"/>
<path d="M1056.1 781.7H1407.7A6.3 6.3 0 0 1 1407.7 794.3H1056.1Z" fill="#a6d96a"/>
<path d="M693.8 861H1407.7A6.3 6.3 0 0 1 1407.7 873.6H693.8A6.3 6.3 0 0 1 693.8 861Z" fill="#fa7a27"/>
<path d="M693.8 939.7H889.7V952.3H693.8A6.3 6.3 0 0 1 693.8 939.7Z" fill="#55b5f5"/>
<path d="M1052.3 939.7H1407.7A6.3 6.3 0 0 1 1407.7 952.3H1052.3Z" fill="#55b5f5"/>
<path d="M886.4 788H1056.1" stroke="#000" stroke-width="1.3"/>
<path d="M888.6 783.5H889.6V792.5H888.6ZM892 783.5H893V792.5H892ZM921.4 783.5H922.4V792.5H921.4ZM924 783.5H925V792.5H924ZM954.8 783.5H955.8V792.5H954.8ZM957.6 783.5H958.6V792.5H957.6ZM1028.4 783.5H1029.29V792.5H1028.4ZM1030.64 783.5H1031.53V792.5H1030.64ZM1032.87 783.5H1033.76V792.5H1032.87ZM1035.11 783.5H1036V792.5H1035.11Z" fill="url(#yD1)"/>
<path d="M1003.8 782.5H1004.97V793.5H1003.8ZM1005.47 782.5H1006.63V793.5H1005.47ZM1007.13 782.5H1008.3V793.5H1007.13Z" fill="url(#rD1)"/>
<path d="M1037.6 783H1038.75V793H1037.6ZM1039.89 783H1041.04V793H1039.89ZM1042.19 783H1043.33V793H1042.19ZM1044.48 783H1045.63V793H1044.48ZM1046.77 783H1047.92V793H1046.77ZM1049.07 783H1050.21V793H1049.07ZM1051.36 783H1052.51V793H1051.36ZM1053.65 783H1054.8V793H1053.65Z" fill="url(#pD1)"/>
<path d="M897.2 720.2V793" stroke="#000" stroke-width="1.4" fill="none"/>
<path d="M927.9 740.3V793" stroke="#000" stroke-width="1.4" fill="none"/>
<path d="M960 759.1V793" stroke="#000" stroke-width="1.4" fill="none"/>
<path d="M1009.6 776.7V793" stroke="#000" stroke-width="1.4" fill="none"/>
<path d="M889.7 946H1052.3" stroke="#000" stroke-width="1.3"/>
<path d="M891.2 941.5H892.2V950.5H891.2ZM893.6 941.5H894.4V950.5H893.6ZM904 941.5H905V950.5H904ZM906 941.5H906.8V950.5H906ZM924 941.5H925V950.5H924ZM926.4 941.5H927.2V950.5H926.4ZM951.4 941.5H952.4V950.5H951.4ZM955.2 941.5H956.2V950.5H955.2Z" fill="url(#yD2)"/>
<path d="M1034.7 941H1035.86V951H1034.7ZM1037.02 941H1038.18V951H1037.02ZM1039.35 941H1040.51V951H1039.35ZM1041.67 941H1042.83V951H1041.67ZM1043.99 941H1045.15V951H1043.99ZM1046.32 941H1047.48V951H1046.32ZM1048.64 941H1049.8V951H1048.64Z" fill="url(#pD2)"/>
<path d="M901 941V995.4" stroke="#000" stroke-width="1.4" fill="none"/>
<path d="M929.9 941V975.3" stroke="#000" stroke-width="1.4" fill="none"/>
<path d="M953.5 941V956.8" stroke="#000" stroke-width="1.4" fill="none"/>
<path d="M1010 876L985.7 941.4" stroke="#e8161a" stroke-width="3" stroke-dasharray="9 5.5" stroke-dashoffset="0" fill="none"/>
<path d="M1027.9 876L1002.8 941.4" stroke="#000" stroke-width="3" stroke-dasharray="9 5.5" stroke-dashoffset="0" fill="none"/>
<text x="622.98" y="795.3" font-size="23" letter-spacing="-1.23">Xla-2S</text>
<text x="622.98" y="874.7" font-size="23" letter-spacing="-0.27">Xtr-2</text>
<text x="622.98" y="954" font-size="23" letter-spacing="-1.32">Xla-2L</text>
<text x="688.48" y="773.9" font-size="33.2" letter-spacing="0.19">Region-2C</text>
<text x="884.25" y="715.9" font-size="18.2" font-style="italic" letter-spacing="0.16">Xla.S_AQPc3</text>
<text x="915.15" y="735.2" font-size="18.2" font-style="italic" letter-spacing="0.22">Xla.S_AQPc4</text>
<text x="947.05" y="753.6" font-size="18.2" font-style="italic" letter-spacing="0.22">Xla.S_AQPc5</text>
<text x="996.05" y="771.7" font-size="18.2" font-style="italic" letter-spacing="0.16">Xla.S_AQPc6</text>
<text x="940.25" y="971.5" font-size="18.2" font-style="italic" letter-spacing="0.2">Xla.L_AQPc5</text>
<text x="916.95" y="990.4" font-size="18.2" font-style="italic" letter-spacing="0.24">Xla.L_AQPc4</text>
<text x="888.55" y="1009.3" font-size="18.2" font-style="italic" letter-spacing="0.12">Xla.L_AQPc3</text>
</g>
<g id="pE">
<text x="620.3" y="1083.5" font-size="52.5">E</text>
<path d="M698.79 1161.8C698.79 1195.15 698.79 1195.15 698.79 1228.5M716.01 1161.8C716.01 1195.15 716.01 1195.15 716.01 1228.5M739.5 1161.8C739.5 1195.15 734.8 1195.15 734.8 1228.5M743.94 1161.8C743.94 1195.15 736.11 1195.15 736.11 1228.5M770.03 1161.8C770.03 1195.15 762.2 1195.15 762.2 1228.5M773.95 1161.8C773.95 1195.15 764.81 1195.15 764.81 1228.5M789.6 1161.8C789.6 1195.15 776.56 1195.15 776.56 1228.5M823.01 1161.8C823.01 1195.15 806.57 1195.15 806.57 1228.5M835.27 1161.8C835.27 1195.15 822.22 1195.15 822.22 1228.5M862.67 1161.8C862.67 1195.15 856.15 1195.15 856.15 1228.5M866.59 1161.8C866.59 1195.15 858.76 1195.15 858.76 1228.5M871.81 1161.8C871.81 1195.15 861.37 1195.15 861.37 1228.5M879.63 1161.8C879.63 1195.15 867.89 1195.15 867.89 1228.5M882.24 1161.8C882.24 1195.15 869.2 1195.15 869.2 1228.5M884.33 1161.8C884.33 1195.15 874.42 1195.15 874.42 1228.5M896.08 1161.8C896.08 1195.15 887.46 1195.15 887.46 1228.5M912.25 1161.8C912.25 1195.15 901.82 1195.15 901.82 1228.5M1070.66 1161.8C1070.66 1195.15 963.14 1195.15 963.14 1228.5M1078.66 1161.8C1078.66 1195.15 1223.95 1195.15 1223.95 1228.5M1083.99 1161.8C1083.99 1195.15 1221.28 1195.15 1221.28 1228.5M1091.99 1161.8C1091.99 1195.15 1213.29 1195.15 1213.29 1228.5M1097.32 1161.8C1097.32 1195.15 1210.62 1195.15 1210.62 1228.5M1106.65 1161.8C1106.65 1195.15 1131.98 1195.15 1131.98 1228.5M1195.96 1161.8C1195.96 1195.15 1117.31 1195.15 1117.31 1228.5M1197.29 1161.8C1197.29 1195.15 1101.32 1195.15 1101.32 1228.5M1209.29 1161.8C1209.29 1195.15 1087.99 1195.15 1087.99 1228.5M1410.57 1161.8C1410.57 1195.15 1056 1195.15 1056 1228.5M1391.91 1161.8C1391.91 1195.15 1071.99 1195.15 1071.99 1228.5M1259.94 1161.8C1259.94 1195.15 1230.62 1195.15 1230.62 1228.5M1265.27 1161.8C1265.27 1195.15 1237.28 1195.15 1237.28 1228.5M1270.61 1161.8C1270.61 1195.15 1242.61 1195.15 1242.61 1228.5M1293.27 1161.8C1293.27 1195.15 1271.94 1195.15 1271.94 1228.5M1326.59 1161.8C1326.59 1195.15 1310.59 1195.15 1310.59 1228.5M1361.25 1161.8C1361.25 1195.15 1347.92 1195.15 1347.92 1228.5M1370.58 1161.8C1370.58 1195.15 1358.58 1195.15 1358.58 1228.5M1379.91 1161.8C1379.91 1195.15 1369.25 1195.15 1369.25 1228.5M1389.24 1161.8C1389.24 1195.15 1378.58 1195.15 1378.58 1228.5M1393.24 1161.8C1393.24 1195.15 1383.91 1195.15 1383.91 1228.5M699.57 1241.1C699.57 1274.15 814.39 1274.15 814.39 1307.2M717.84 1241.1C717.84 1274.15 807.87 1274.15 807.87 1307.2M736.11 1241.1C736.11 1274.15 801.35 1274.15 801.35 1307.2M742.63 1241.1C742.63 1274.15 784.38 1274.15 784.38 1307.2M762.2 1241.1C762.2 1274.15 780.47 1274.15 780.47 1307.2M764.81 1241.1C764.81 1274.15 777.86 1274.15 777.86 1307.2M805.26 1241.1C805.26 1274.15 751.76 1274.15 751.76 1307.2M836.58 1241.1C836.58 1274.15 726.97 1274.15 726.97 1307.2M847.01 1241.1C847.01 1274.15 724.36 1274.15 724.36 1307.2M852.23 1241.1C852.23 1274.15 719.14 1274.15 719.14 1307.2M860.06 1241.1C860.06 1274.15 713.92 1274.15 713.92 1307.2M865.28 1241.1C865.28 1274.15 711.32 1274.15 711.32 1307.2M870.5 1241.1C870.5 1274.15 703.49 1274.15 703.49 1307.2M883.55 1241.1C883.55 1274.15 699.57 1274.15 699.57 1307.2M775.25 1241.1C775.25 1274.15 1263.94 1274.15 1263.94 1307.2M903.12 1241.1C903.12 1274.15 1030.99 1274.15 1030.99 1307.2M963.14 1241.1C963.14 1274.15 1129.31 1274.15 1129.31 1307.2M1052 1241.1C1052 1274.15 1238.61 1274.15 1238.61 1307.2M1067.99 1241.1C1067.99 1274.15 1230.62 1274.15 1230.62 1307.2M1073.32 1241.1C1073.32 1274.15 1226.62 1274.15 1226.62 1307.2M1079.99 1241.1C1079.99 1274.15 1223.95 1274.15 1223.95 1307.2M1093.32 1241.1C1093.32 1274.15 1210.62 1274.15 1210.62 1307.2M1099.98 1241.1C1099.98 1274.15 1199.96 1274.15 1199.96 1307.2M1119.98 1241.1C1119.98 1274.15 1195.96 1274.15 1195.96 1307.2M1215.95 1241.1C1215.95 1274.15 1131.98 1274.15 1131.98 1307.2M1222.62 1241.1C1222.62 1274.15 1135.97 1274.15 1135.97 1307.2M1131.98 1241.1C1131.98 1274.15 1142.64 1274.15 1142.64 1307.2M1223.95 1241.1C1223.95 1274.15 1397.24 1274.15 1397.24 1307.2M1230.62 1241.1C1230.62 1274.15 1391.91 1274.15 1391.91 1307.2M1237.28 1241.1C1237.28 1274.15 1386.57 1274.15 1386.57 1307.2M1245.28 1241.1C1245.28 1274.15 1381.24 1274.15 1381.24 1307.2M1253.28 1241.1C1253.28 1274.15 1357.25 1274.15 1357.25 1307.2M1271.94 1241.1C1271.94 1274.15 1345.25 1274.15 1345.25 1307.2M1349.25 1241.1C1349.25 1274.15 1289.27 1274.15 1289.27 1307.2M1359.91 1241.1C1359.91 1274.15 1285.27 1274.15 1285.27 1307.2M1370.58 1241.1C1370.58 1274.15 1281.27 1274.15 1281.27 1307.2M1375.91 1241.1C1375.91 1274.15 1277.27 1274.15 1277.27 1307.2M1402.57 1241.1C1402.57 1274.15 1275.94 1274.15 1275.94 1307.2M1310.59 1241.1C1310.59 1274.15 1311.93 1274.15 1311.93 1307.2M1359.91 1241.1C1359.91 1274.15 1229.28 1274.15 1229.28 1307.2M1402.57 1241.1C1402.57 1274.15 1238.61 1274.15 1238.61 1307.2M1373.24 1241.1C1373.24 1274.15 976.19 1274.15 976.19 1307.2M1363.91 1241.1C1363.91 1274.15 987.93 1274.15 987.93 1307.2M1354.58 1241.1C1354.58 1274.15 1019.25 1274.15 1019.25 1307.2" fill="none" stroke="#4a4a4a" stroke-width="0.85"/>
<path d="M1086.65 1241.1C1086.65 1274.15 1214.62 1274.15 1214.62 1307.2" fill="none" stroke="#c01818" stroke-width="0.8"/>
<path d="M693.8 1149.2H1407.7A6.3 6.3 0 0 1 1407.7 1161.8H693.8A6.3 6.3 0 0 1 693.8 1149.2Z" fill="#a6d96a"/>
<path d="M693.8 1228.5H1407.7A6.3 6.3 0 0 1 1407.7 1241.1H693.8A6.3 6.3 0 0 1 693.8 1228.5Z" fill="#fa7a27"/>
<path d="M693.8 1307.2H1407.7A6.3 6.3 0 0 1 1407.7 1319.8H693.8A6.3 6.3 0 0 1 693.8 1307.2Z" fill="#55b5f5"/>
<path d="M1212.8 1307V1326.3" stroke="#000" stroke-width="1.4" fill="none"/>
<text x="622.98" y="1162.8" font-size="23" letter-spacing="-1.23">Xla-2S</text>
<text x="622.98" y="1242.2" font-size="23" letter-spacing="-0.27">Xtr-2</text>
<text x="622.98" y="1321.5" font-size="23" letter-spacing="-1.32">Xla-2L</text>
<text x="688.48" y="1141.6" font-size="33.2" letter-spacing="-0.09">Region-2D</text>
<text x="1160.25" y="1344.5" font-size="18.2" font-style="italic" letter-spacing="0.3">Xla.L_AQPs1</text>
</g>
</svg>
</body></html>
